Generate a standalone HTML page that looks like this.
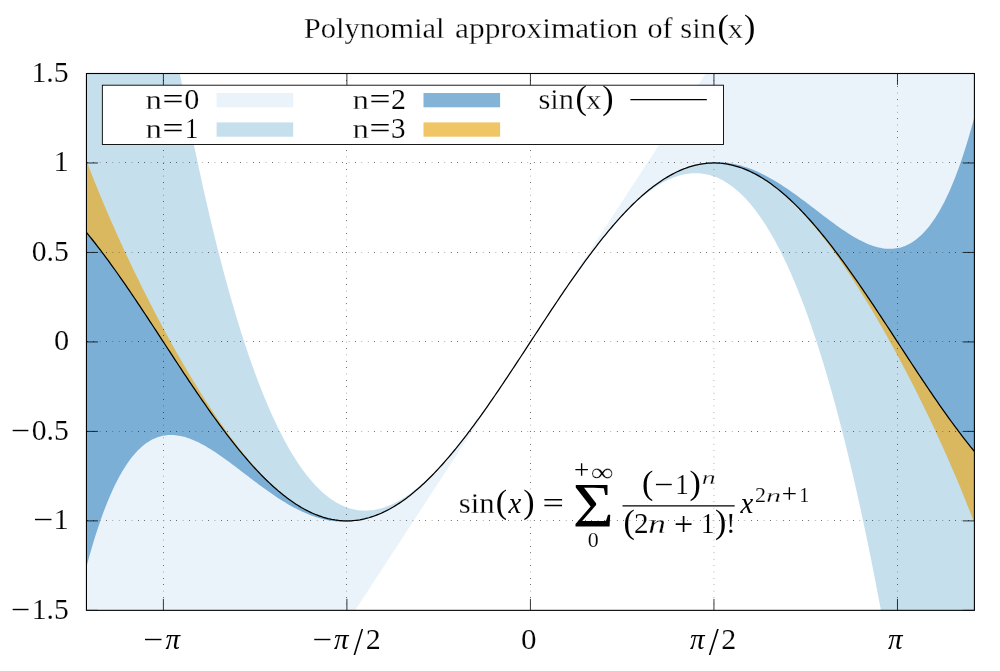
<!DOCTYPE html>
<html><head><meta charset="utf-8"><title>Polynomial approximation of sin(x)</title>
<style>html,body{margin:0;padding:0;background:#fff;}svg{display:block;}</style>
</head><body>
<svg width="1000" height="671" viewBox="0 0 1000 671">
<defs><clipPath id="pc"><rect x="86.45" y="73.50" width="887.95" height="536.85"/></clipPath></defs>
<title>Polynomial approximation of sin(x)</title><desc>Filled curves n=0, n=1, n=2, n=3 and sin(x); sin(x) = sum from 0 to +infinity of (-1)^n / (2n+1)! x^(2n+1)</desc>
<rect width="1000" height="671" fill="#fff"/>
<g clip-path="url(#pc)">
<path d="M86.45,1021.93 L88.23,1019.21 L90.00,1016.49 L91.78,1013.77 L93.55,1011.05 L95.33,1008.33 L97.11,1005.61 L98.88,1002.89 L100.66,1000.17 L102.43,997.45 L104.21,994.73 L105.98,992.01 L107.76,989.29 L109.54,986.57 L111.31,983.85 L113.09,981.13 L114.86,978.41 L116.64,975.69 L118.42,972.97 L120.19,970.25 L121.97,967.53 L123.74,964.81 L125.52,962.09 L127.30,959.37 L129.07,956.65 L130.85,953.93 L132.62,951.21 L134.40,948.49 L136.18,945.77 L137.95,943.05 L139.73,940.33 L141.50,937.61 L143.28,934.89 L145.05,932.17 L146.83,929.45 L148.61,926.73 L150.38,924.01 L152.16,921.29 L153.93,918.57 L155.71,915.85 L157.49,913.13 L159.26,910.41 L161.04,907.69 L162.81,904.97 L164.59,902.25 L166.37,899.53 L168.14,896.81 L169.92,894.09 L171.69,891.37 L173.47,888.65 L175.24,885.93 L177.02,883.21 L178.80,880.49 L180.57,877.77 L182.35,875.05 L184.12,872.33 L185.90,869.61 L187.68,866.89 L189.45,864.17 L191.23,861.45 L193.00,858.73 L194.78,856.01 L196.56,853.29 L198.33,850.57 L200.11,847.85 L201.88,845.13 L203.66,842.41 L205.44,839.69 L207.21,836.97 L208.99,834.25 L210.76,831.53 L212.54,828.81 L214.31,826.09 L216.09,823.37 L217.87,820.65 L219.64,817.93 L221.42,815.21 L223.19,812.49 L224.97,809.77 L226.75,807.05 L228.52,804.33 L230.30,801.61 L232.07,798.89 L233.85,796.17 L235.63,793.45 L237.40,790.73 L239.18,788.01 L240.95,785.29 L242.73,782.57 L244.51,779.85 L246.28,777.13 L248.06,774.41 L249.83,771.69 L251.61,768.97 L253.38,766.25 L255.16,763.53 L256.94,760.81 L258.71,758.09 L260.49,755.37 L262.26,752.65 L264.04,749.93 L265.82,747.21 L267.59,744.49 L269.37,741.77 L271.14,739.05 L272.92,736.33 L274.70,733.61 L276.47,730.89 L278.25,728.17 L280.02,725.45 L281.80,722.73 L283.57,720.01 L285.35,717.29 L287.13,714.57 L288.90,711.85 L290.68,709.13 L292.45,706.41 L294.23,703.69 L296.01,700.97 L297.78,698.25 L299.56,695.53 L301.33,692.81 L303.11,690.09 L304.89,687.37 L306.66,684.65 L308.44,681.93 L310.21,679.21 L311.99,676.49 L313.77,673.77 L315.54,671.05 L317.32,668.33 L319.09,665.61 L320.87,662.89 L322.64,660.17 L324.42,657.45 L326.20,654.73 L327.97,652.01 L329.75,649.29 L331.52,646.57 L333.30,643.85 L335.08,641.13 L336.85,638.41 L338.63,635.69 L340.40,632.97 L342.18,630.25 L343.96,627.53 L345.73,624.81 L347.51,622.09 L349.28,619.37 L351.06,616.65 L352.83,613.93 L354.61,611.21 L356.39,608.49 L358.16,605.77 L359.94,603.05 L361.71,600.33 L363.49,597.61 L365.27,594.89 L367.04,592.17 L368.82,589.45 L370.59,586.73 L372.37,584.01 L374.15,581.29 L375.92,578.57 L377.70,575.85 L379.47,573.13 L381.25,570.41 L383.03,567.69 L384.80,564.97 L386.58,562.25 L388.35,559.53 L390.13,556.81 L391.90,554.09 L393.68,551.37 L395.46,548.65 L397.23,545.93 L399.01,543.21 L400.78,540.49 L402.56,537.77 L404.34,535.05 L406.11,532.33 L407.89,529.61 L409.66,526.89 L411.44,524.17 L413.22,521.45 L414.99,518.73 L416.77,516.01 L418.54,513.29 L420.32,510.57 L422.10,507.85 L423.87,505.13 L425.65,502.41 L427.42,499.69 L429.20,496.97 L430.97,494.25 L432.75,491.53 L434.53,488.81 L436.30,486.09 L438.08,483.37 L439.85,480.65 L441.63,477.93 L443.41,475.21 L445.18,472.49 L446.96,469.77 L448.73,467.05 L450.51,464.33 L452.29,461.61 L454.06,458.89 L455.84,456.17 L457.61,453.45 L459.39,450.73 L461.16,448.01 L462.94,445.29 L464.72,442.57 L466.49,439.85 L468.27,437.13 L470.04,434.41 L471.82,431.69 L473.60,428.97 L475.37,426.25 L477.15,423.53 L478.92,420.81 L480.70,418.09 L482.48,415.37 L484.25,412.65 L486.03,409.93 L487.80,407.21 L489.58,404.49 L491.36,401.77 L493.13,399.05 L494.91,396.33 L496.68,393.61 L498.46,390.89 L500.23,388.17 L502.01,385.45 L503.79,382.73 L505.56,380.01 L507.34,377.29 L509.11,374.57 L510.89,371.85 L512.67,369.13 L514.44,366.41 L516.22,363.69 L517.99,360.97 L519.77,358.25 L521.55,355.53 L523.32,352.81 L525.10,350.09 L526.87,347.37 L528.65,344.65 L530.42,341.93 L532.20,339.20 L533.98,336.48 L535.75,333.76 L537.53,331.04 L539.30,328.32 L541.08,325.60 L542.86,322.88 L544.63,320.16 L546.41,317.44 L548.18,314.72 L549.96,312.00 L551.74,309.28 L553.51,306.56 L555.29,303.84 L557.06,301.12 L558.84,298.40 L560.62,295.68 L562.39,292.96 L564.17,290.24 L565.94,287.52 L567.72,284.80 L569.49,282.08 L571.27,279.36 L573.05,276.64 L574.82,273.92 L576.60,271.20 L578.37,268.48 L580.15,265.76 L581.93,263.04 L583.70,260.32 L585.48,257.60 L587.25,254.88 L589.03,252.16 L590.81,249.44 L592.58,246.72 L594.36,244.00 L596.13,241.28 L597.91,238.56 L599.69,235.84 L601.46,233.12 L603.24,230.40 L605.01,227.68 L606.79,224.96 L608.56,222.24 L610.34,219.52 L612.12,216.80 L613.89,214.08 L615.67,211.36 L617.44,208.64 L619.22,205.92 L621.00,203.20 L622.77,200.48 L624.55,197.76 L626.32,195.04 L628.10,192.32 L629.88,189.60 L631.65,186.88 L633.43,184.16 L635.20,181.44 L636.98,178.72 L638.75,176.00 L640.53,173.28 L642.31,170.56 L644.08,167.84 L645.86,165.12 L647.63,162.40 L649.41,159.68 L651.19,156.96 L652.96,154.24 L654.74,151.52 L656.51,148.80 L658.29,146.08 L660.07,143.36 L661.84,140.64 L663.62,137.92 L665.39,135.20 L667.17,132.48 L668.95,129.76 L670.72,127.04 L672.50,124.32 L674.27,121.60 L676.05,118.88 L677.82,116.16 L679.60,113.44 L681.38,110.72 L683.15,108.00 L684.93,105.28 L686.70,102.56 L688.48,99.84 L690.26,97.12 L692.03,94.40 L693.81,91.68 L695.58,88.96 L697.36,86.24 L699.14,83.52 L700.91,80.80 L702.69,78.08 L704.46,75.36 L706.24,72.64 L708.01,69.92 L709.79,67.20 L711.57,64.48 L713.34,61.76 L715.12,59.04 L716.89,56.32 L718.67,53.60 L720.45,50.88 L722.22,48.16 L724.00,45.44 L725.77,42.72 L727.55,40.00 L729.33,37.28 L731.10,34.56 L732.88,31.84 L734.65,29.12 L736.43,26.40 L738.21,23.68 L739.98,20.96 L741.76,18.24 L743.53,15.52 L745.31,12.80 L747.08,10.08 L748.86,7.36 L750.64,4.64 L752.41,1.92 L754.19,-0.80 L755.96,-3.52 L757.74,-6.24 L759.52,-8.96 L761.29,-11.68 L763.07,-14.40 L764.84,-17.12 L766.62,-19.84 L768.40,-22.56 L770.17,-25.28 L771.95,-28.00 L773.72,-30.72 L775.50,-33.44 L777.28,-36.16 L779.05,-38.88 L780.83,-41.60 L782.60,-44.32 L784.38,-47.04 L786.15,-49.76 L787.93,-52.48 L789.71,-55.20 L791.48,-57.92 L793.26,-60.64 L795.03,-63.36 L796.81,-66.08 L798.59,-68.80 L800.36,-71.52 L802.14,-74.24 L803.91,-76.96 L805.69,-79.68 L807.47,-82.40 L809.24,-85.12 L811.02,-87.84 L812.79,-90.56 L814.57,-93.28 L816.34,-96.00 L818.12,-98.72 L819.90,-101.44 L821.67,-104.16 L823.45,-106.88 L825.22,-109.60 L827.00,-112.32 L828.78,-115.04 L830.55,-117.76 L832.33,-120.48 L834.10,-123.20 L835.88,-125.92 L837.66,-128.64 L839.43,-131.36 L841.21,-134.08 L842.98,-136.80 L844.76,-139.52 L846.54,-142.24 L848.31,-144.96 L850.09,-147.68 L851.86,-150.40 L853.64,-153.12 L855.41,-155.84 L857.19,-158.56 L858.97,-161.28 L860.74,-164.00 L862.52,-166.72 L864.29,-169.44 L866.07,-172.16 L867.85,-174.88 L869.62,-177.60 L871.40,-180.32 L873.17,-183.04 L874.95,-185.76 L876.73,-188.48 L878.50,-191.20 L880.28,-193.92 L882.05,-196.64 L883.83,-199.36 L885.61,-202.08 L887.38,-204.80 L889.16,-207.52 L890.93,-210.24 L892.71,-212.96 L894.48,-215.68 L896.26,-218.40 L898.04,-221.12 L899.81,-223.84 L901.59,-226.56 L903.36,-229.28 L905.14,-232.00 L906.92,-234.72 L908.69,-237.44 L910.47,-240.16 L912.24,-242.88 L914.02,-245.60 L915.80,-248.32 L917.57,-251.04 L919.35,-253.76 L921.12,-256.48 L922.90,-259.20 L924.67,-261.92 L926.45,-264.64 L928.23,-267.36 L930.00,-270.08 L931.78,-272.80 L933.55,-275.52 L935.33,-278.24 L937.11,-280.96 L938.88,-283.68 L940.66,-286.40 L942.43,-289.12 L944.21,-291.84 L945.99,-294.56 L947.76,-297.28 L949.54,-300.00 L951.31,-302.72 L953.09,-305.44 L954.87,-308.16 L956.64,-310.88 L958.42,-313.60 L960.19,-316.32 L961.97,-319.04 L963.74,-321.76 L965.52,-324.48 L967.30,-327.20 L969.07,-329.92 L970.85,-332.64 L972.62,-335.36 L974.40,-338.08 L974.40,451.42 L972.62,449.25 L970.85,447.06 L969.07,444.85 L967.30,442.61 L965.52,440.35 L963.74,438.07 L961.97,435.77 L960.19,433.44 L958.42,431.09 L956.64,428.72 L954.87,426.33 L953.09,423.93 L951.31,421.50 L949.54,419.05 L947.76,416.59 L945.99,414.11 L944.21,411.61 L942.43,409.10 L940.66,406.57 L938.88,404.03 L937.11,401.47 L935.33,398.90 L933.55,396.31 L931.78,393.71 L930.00,391.10 L928.23,388.48 L926.45,385.85 L924.67,383.21 L922.90,380.56 L921.12,377.90 L919.35,375.23 L917.57,372.55 L915.80,369.87 L914.02,367.18 L912.24,364.49 L910.47,361.78 L908.69,359.08 L906.92,356.37 L905.14,353.66 L903.36,350.94 L901.59,348.22 L899.81,345.51 L898.04,342.79 L896.26,340.07 L894.48,337.35 L892.71,334.63 L890.93,331.91 L889.16,329.20 L887.38,326.48 L885.61,323.78 L883.83,321.07 L882.05,318.37 L880.28,315.68 L878.50,312.99 L876.73,310.31 L874.95,307.64 L873.17,304.97 L871.40,302.32 L869.62,299.67 L867.85,297.03 L866.07,294.40 L864.29,291.78 L862.52,289.18 L860.74,286.59 L858.97,284.01 L857.19,281.44 L855.41,278.89 L853.64,276.35 L851.86,273.83 L850.09,271.32 L848.31,268.83 L846.54,266.35 L844.76,263.90 L842.98,261.46 L841.21,259.04 L839.43,256.64 L837.66,254.25 L835.88,251.89 L834.10,249.55 L832.33,247.23 L830.55,244.94 L828.78,242.66 L827.00,240.41 L825.22,238.18 L823.45,235.98 L821.67,233.80 L819.90,231.64 L818.12,229.51 L816.34,227.41 L814.57,225.33 L812.79,223.28 L811.02,221.26 L809.24,219.27 L807.47,217.30 L805.69,215.36 L803.91,213.46 L802.14,211.58 L800.36,209.73 L798.59,207.91 L796.81,206.12 L795.03,204.37 L793.26,202.64 L791.48,200.95 L789.71,199.29 L787.93,197.67 L786.15,196.07 L784.38,194.52 L782.60,192.99 L780.83,191.50 L779.05,190.04 L777.28,188.62 L775.50,187.24 L773.72,185.89 L771.95,184.57 L770.17,183.30 L768.40,182.06 L766.62,180.85 L764.84,179.69 L763.07,178.56 L761.29,177.47 L759.52,176.41 L757.74,175.40 L755.96,174.42 L754.19,173.48 L752.41,172.58 L750.64,171.72 L748.86,170.90 L747.08,170.12 L745.31,169.38 L743.53,168.68 L741.76,168.02 L739.98,167.40 L738.21,166.82 L736.43,166.28 L734.65,165.78 L732.88,165.32 L731.10,164.90 L729.33,164.52 L727.55,164.19 L725.77,163.89 L724.00,163.64 L722.22,163.42 L720.45,163.25 L718.67,163.12 L716.89,163.03 L715.12,162.98 L713.34,162.98 L711.57,163.01 L709.79,163.09 L708.01,163.21 L706.24,163.36 L704.46,163.56 L702.69,163.81 L700.91,164.09 L699.14,164.41 L697.36,164.78 L695.58,165.18 L693.81,165.63 L692.03,166.11 L690.26,166.64 L688.48,167.21 L686.70,167.82 L684.93,168.47 L683.15,169.16 L681.38,169.88 L679.60,170.65 L677.82,171.46 L676.05,172.31 L674.27,173.19 L672.50,174.12 L670.72,175.08 L668.95,176.09 L667.17,177.13 L665.39,178.21 L663.62,179.33 L661.84,180.48 L660.07,181.67 L658.29,182.90 L656.51,184.17 L654.74,185.47 L652.96,186.81 L651.19,188.18 L649.41,189.59 L647.63,191.04 L645.86,192.51 L644.08,194.03 L642.31,195.58 L640.53,197.16 L638.75,198.78 L636.98,200.42 L635.20,202.11 L633.43,203.82 L631.65,205.56 L629.88,207.34 L628.10,209.15 L626.32,210.99 L624.55,212.86 L622.77,214.76 L621.00,216.69 L619.22,218.64 L617.44,220.63 L615.67,222.64 L613.89,224.68 L612.12,226.75 L610.34,228.85 L608.56,230.97 L606.79,233.11 L605.01,235.29 L603.24,237.48 L601.46,239.70 L599.69,241.95 L597.91,244.22 L596.13,246.51 L594.36,248.82 L592.58,251.15 L590.81,253.51 L589.03,255.88 L587.25,258.28 L585.48,260.69 L583.70,263.12 L581.93,265.57 L580.15,268.04 L578.37,270.53 L576.60,273.03 L574.82,275.55 L573.05,278.08 L571.27,280.63 L569.49,283.19 L567.72,285.77 L565.94,288.36 L564.17,290.96 L562.39,293.57 L560.62,296.20 L558.84,298.83 L557.06,301.48 L555.29,304.13 L553.51,306.79 L551.74,309.47 L549.96,312.14 L548.18,314.83 L546.41,317.52 L544.63,320.22 L542.86,322.92 L541.08,325.63 L539.30,328.34 L537.53,331.05 L535.75,333.77 L533.98,336.49 L532.20,339.21 L530.42,341.93 L528.65,344.64 L526.87,347.36 L525.10,350.08 L523.32,352.80 L521.55,355.51 L519.77,358.22 L517.99,360.93 L516.22,363.63 L514.44,366.33 L512.67,369.02 L510.89,371.71 L509.11,374.38 L507.34,377.06 L505.56,379.72 L503.79,382.37 L502.01,385.02 L500.23,387.65 L498.46,390.28 L496.68,392.89 L494.91,395.49 L493.13,398.08 L491.36,400.66 L489.58,403.22 L487.80,405.77 L486.03,408.30 L484.25,410.82 L482.48,413.32 L480.70,415.81 L478.92,418.28 L477.15,420.73 L475.37,423.16 L473.60,425.57 L471.82,427.97 L470.04,430.34 L468.27,432.70 L466.49,435.03 L464.72,437.34 L462.94,439.63 L461.16,441.90 L459.39,444.15 L457.61,446.37 L455.84,448.56 L454.06,450.74 L452.29,452.88 L450.51,455.00 L448.73,457.10 L446.96,459.17 L445.18,461.21 L443.41,463.22 L441.63,465.21 L439.85,467.16 L438.08,469.09 L436.30,470.99 L434.53,472.86 L432.75,474.70 L430.97,476.51 L429.20,478.29 L427.42,480.03 L425.65,481.74 L423.87,483.43 L422.10,485.07 L420.32,486.69 L418.54,488.27 L416.77,489.82 L414.99,491.34 L413.22,492.81 L411.44,494.26 L409.66,495.67 L407.89,497.04 L406.11,498.38 L404.34,499.68 L402.56,500.95 L400.78,502.18 L399.01,503.37 L397.23,504.52 L395.46,505.64 L393.68,506.72 L391.90,507.76 L390.13,508.77 L388.35,509.73 L386.58,510.66 L384.80,511.54 L383.03,512.39 L381.25,513.20 L379.47,513.97 L377.70,514.69 L375.92,515.38 L374.15,516.03 L372.37,516.64 L370.59,517.21 L368.82,517.74 L367.04,518.22 L365.27,518.67 L363.49,519.07 L361.71,519.44 L359.94,519.76 L358.16,520.04 L356.39,520.29 L354.61,520.49 L352.83,520.64 L351.06,520.76 L349.28,520.84 L347.51,520.87 L345.73,520.87 L343.96,520.82 L342.18,520.73 L340.40,520.60 L338.63,520.43 L336.85,520.21 L335.08,519.96 L333.30,519.66 L331.52,519.33 L329.75,518.95 L327.97,518.53 L326.20,518.07 L324.42,517.57 L322.64,517.03 L320.87,516.45 L319.09,515.83 L317.32,515.17 L315.54,514.47 L313.77,513.73 L311.99,512.95 L310.21,512.13 L308.44,511.27 L306.66,510.37 L304.89,509.43 L303.11,508.45 L301.33,507.44 L299.56,506.38 L297.78,505.29 L296.01,504.16 L294.23,503.00 L292.45,501.79 L290.68,500.55 L288.90,499.28 L287.13,497.96 L285.35,496.61 L283.57,495.23 L281.80,493.81 L280.02,492.35 L278.25,490.86 L276.47,489.33 L274.70,487.78 L272.92,486.18 L271.14,484.56 L269.37,482.90 L267.59,481.21 L265.82,479.48 L264.04,477.73 L262.26,475.94 L260.49,474.12 L258.71,472.27 L256.94,470.39 L255.16,468.49 L253.38,466.55 L251.61,464.58 L249.83,462.59 L248.06,460.57 L246.28,458.52 L244.51,456.44 L242.73,454.34 L240.95,452.21 L239.18,450.05 L237.40,447.87 L235.63,445.67 L233.85,443.44 L232.07,441.19 L230.30,438.91 L228.52,436.62 L226.75,434.30 L224.97,431.96 L223.19,429.60 L221.42,427.21 L219.64,424.81 L217.87,422.39 L216.09,419.95 L214.31,417.50 L212.54,415.02 L210.76,412.53 L208.99,410.02 L207.21,407.50 L205.44,404.96 L203.66,402.41 L201.88,399.84 L200.11,397.26 L198.33,394.67 L196.56,392.07 L194.78,389.45 L193.00,386.82 L191.23,384.18 L189.45,381.53 L187.68,378.88 L185.90,376.21 L184.12,373.54 L182.35,370.86 L180.57,368.17 L178.80,365.48 L177.02,362.78 L175.24,360.07 L173.47,357.37 L171.69,354.65 L169.92,351.94 L168.14,349.22 L166.37,346.50 L164.59,343.78 L162.81,341.06 L161.04,338.34 L159.26,335.63 L157.49,332.91 L155.71,330.19 L153.93,327.48 L152.16,324.77 L150.38,322.07 L148.61,319.36 L146.83,316.67 L145.05,313.98 L143.28,311.30 L141.50,308.62 L139.73,305.95 L137.95,303.29 L136.18,300.64 L134.40,298.00 L132.62,295.37 L130.85,292.75 L129.07,290.14 L127.30,287.54 L125.52,284.95 L123.74,282.38 L121.97,279.82 L120.19,277.28 L118.42,274.75 L116.64,272.24 L114.86,269.74 L113.09,267.26 L111.31,264.80 L109.54,262.35 L107.76,259.92 L105.98,257.52 L104.21,255.13 L102.43,252.76 L100.66,250.41 L98.88,248.08 L97.11,245.78 L95.33,243.50 L93.55,241.24 L91.78,239.00 L90.00,236.79 L88.23,234.60 L86.45,232.43Z" fill="#DEEBF7" fill-opacity="0.60"/>
<path d="M86.45,-373.88 L88.23,-373.88 L90.00,-373.88 L91.78,-373.88 L93.55,-373.88 L95.33,-373.88 L97.11,-373.88 L98.88,-373.88 L100.66,-373.88 L102.43,-373.88 L104.21,-373.88 L105.98,-373.88 L107.76,-373.88 L109.54,-373.88 L111.31,-373.88 L113.09,-373.88 L114.86,-363.61 L116.64,-349.19 L118.42,-334.93 L120.19,-320.81 L121.97,-306.83 L123.74,-293.00 L125.52,-279.32 L127.30,-265.77 L129.07,-252.37 L130.85,-239.12 L132.62,-226.00 L134.40,-213.02 L136.18,-200.19 L137.95,-187.49 L139.73,-174.93 L141.50,-162.52 L143.28,-150.23 L145.05,-138.09 L146.83,-126.08 L148.61,-114.21 L150.38,-102.47 L152.16,-90.87 L153.93,-79.40 L155.71,-68.06 L157.49,-56.86 L159.26,-45.79 L161.04,-34.85 L162.81,-24.04 L164.59,-13.36 L166.37,-2.81 L168.14,7.61 L169.92,17.90 L171.69,28.07 L173.47,38.10 L175.24,48.02 L177.02,57.80 L178.80,67.46 L180.57,77.00 L182.35,86.41 L184.12,95.70 L185.90,104.87 L187.68,113.91 L189.45,122.84 L191.23,131.64 L193.00,140.32 L194.78,148.89 L196.56,157.33 L198.33,165.66 L200.11,173.87 L201.88,181.96 L203.66,189.94 L205.44,197.80 L207.21,205.54 L208.99,213.17 L210.76,220.69 L212.54,228.09 L214.31,235.39 L216.09,242.57 L217.87,249.63 L219.64,256.59 L221.42,263.44 L223.19,270.18 L224.97,276.81 L226.75,283.33 L228.52,289.75 L230.30,296.05 L232.07,302.25 L233.85,308.35 L235.63,314.34 L237.40,320.23 L239.18,326.01 L240.95,331.69 L242.73,337.27 L244.51,342.74 L246.28,348.12 L248.06,353.39 L249.83,358.57 L251.61,363.64 L253.38,368.62 L255.16,373.49 L256.94,378.27 L258.71,382.96 L260.49,387.55 L262.26,392.04 L264.04,396.43 L265.82,400.74 L267.59,404.95 L269.37,409.06 L271.14,413.09 L272.92,417.02 L274.70,420.86 L276.47,424.61 L278.25,428.27 L280.02,431.84 L281.80,435.32 L283.57,438.72 L285.35,442.03 L287.13,445.25 L288.90,448.38 L290.68,451.43 L292.45,454.40 L294.23,457.28 L296.01,460.07 L297.78,462.79 L299.56,465.42 L301.33,467.97 L303.11,470.44 L304.89,472.82 L306.66,475.13 L308.44,477.36 L310.21,479.51 L311.99,481.58 L313.77,483.58 L315.54,485.50 L317.32,487.34 L319.09,489.11 L320.87,490.80 L322.64,492.42 L324.42,493.96 L326.20,495.43 L327.97,496.83 L329.75,498.16 L331.52,499.42 L333.30,500.60 L335.08,501.72 L336.85,502.77 L338.63,503.75 L340.40,504.66 L342.18,505.50 L343.96,506.28 L345.73,506.99 L347.51,507.64 L349.28,508.22 L351.06,508.74 L352.83,509.19 L354.61,509.58 L356.39,509.91 L358.16,510.18 L359.94,510.38 L361.71,510.53 L363.49,510.61 L365.27,510.64 L367.04,510.61 L368.82,510.52 L370.59,510.37 L372.37,510.17 L374.15,509.91 L375.92,509.60 L377.70,509.23 L379.47,508.81 L381.25,508.33 L383.03,507.80 L384.80,507.22 L386.58,506.59 L388.35,505.90 L390.13,505.17 L391.90,504.38 L393.68,503.55 L395.46,502.67 L397.23,501.74 L399.01,500.76 L400.78,499.74 L402.56,498.67 L404.34,497.56 L406.11,496.40 L407.89,495.20 L409.66,493.95 L411.44,492.67 L413.22,491.34 L414.99,489.96 L416.77,488.55 L418.54,487.10 L420.32,485.61 L422.10,484.07 L423.87,482.50 L425.65,480.90 L427.42,479.25 L429.20,477.57 L430.97,475.85 L432.75,474.10 L434.53,472.31 L436.30,470.49 L438.08,468.64 L439.85,466.75 L441.63,464.83 L443.41,462.88 L445.18,460.90 L446.96,458.89 L448.73,456.85 L450.51,454.78 L452.29,452.68 L454.06,450.56 L455.84,448.41 L457.61,446.23 L459.39,444.02 L461.16,441.79 L462.94,439.54 L464.72,437.26 L466.49,434.96 L468.27,432.64 L470.04,430.29 L471.82,427.92 L473.60,425.53 L475.37,423.13 L477.15,420.70 L478.92,418.25 L480.70,415.79 L482.48,413.30 L484.25,410.81 L486.03,408.29 L487.80,405.76 L489.58,403.21 L491.36,400.65 L493.13,398.08 L494.91,395.49 L496.68,392.89 L498.46,390.27 L500.23,387.65 L502.01,385.02 L503.79,382.37 L505.56,379.72 L507.34,377.06 L509.11,374.38 L510.89,371.71 L512.67,369.02 L514.44,366.33 L516.22,363.63 L517.99,360.93 L519.77,358.22 L521.55,355.51 L523.32,352.80 L525.10,350.08 L526.87,347.36 L528.65,344.64 L530.42,341.93 L532.20,339.21 L533.98,336.49 L535.75,333.77 L537.53,331.05 L539.30,328.34 L541.08,325.63 L542.86,322.92 L544.63,320.22 L546.41,317.52 L548.18,314.83 L549.96,312.14 L551.74,309.47 L553.51,306.79 L555.29,304.13 L557.06,301.48 L558.84,298.83 L560.62,296.20 L562.39,293.58 L564.17,290.96 L565.94,288.36 L567.72,285.77 L569.49,283.20 L571.27,280.64 L573.05,278.09 L574.82,275.56 L576.60,273.04 L578.37,270.55 L580.15,268.06 L581.93,265.60 L583.70,263.15 L585.48,260.72 L587.25,258.32 L589.03,255.93 L590.81,253.56 L592.58,251.21 L594.36,248.89 L596.13,246.59 L597.91,244.31 L599.69,242.06 L601.46,239.83 L603.24,237.62 L605.01,235.44 L606.79,233.29 L608.56,231.17 L610.34,229.07 L612.12,227.00 L613.89,224.96 L615.67,222.95 L617.44,220.97 L619.22,219.02 L621.00,217.10 L622.77,215.21 L624.55,213.36 L626.32,211.54 L628.10,209.75 L629.88,208.00 L631.65,206.28 L633.43,204.60 L635.20,202.95 L636.98,201.35 L638.75,199.78 L640.53,198.24 L642.31,196.75 L644.08,195.30 L645.86,193.89 L647.63,192.51 L649.41,191.18 L651.19,189.90 L652.96,188.65 L654.74,187.45 L656.51,186.29 L658.29,185.18 L660.07,184.11 L661.84,183.09 L663.62,182.11 L665.39,181.18 L667.17,180.30 L668.95,179.47 L670.72,178.68 L672.50,177.95 L674.27,177.26 L676.05,176.63 L677.82,176.05 L679.60,175.52 L681.38,175.04 L683.15,174.62 L684.93,174.25 L686.70,173.94 L688.48,173.68 L690.26,173.48 L692.03,173.33 L693.81,173.24 L695.58,173.21 L697.36,173.24 L699.14,173.32 L700.91,173.47 L702.69,173.67 L704.46,173.94 L706.24,174.27 L708.01,174.66 L709.79,175.11 L711.57,175.63 L713.34,176.21 L715.12,176.86 L716.89,177.57 L718.67,178.35 L720.45,179.19 L722.22,180.10 L724.00,181.08 L725.77,182.13 L727.55,183.25 L729.33,184.43 L731.10,185.69 L732.88,187.02 L734.65,188.42 L736.43,189.89 L738.21,191.43 L739.98,193.05 L741.76,194.74 L743.53,196.51 L745.31,198.35 L747.08,200.27 L748.86,202.27 L750.64,204.34 L752.41,206.49 L754.19,208.72 L755.96,211.03 L757.74,213.41 L759.52,215.88 L761.29,218.43 L763.07,221.06 L764.84,223.78 L766.62,226.57 L768.40,229.45 L770.17,232.42 L771.95,235.47 L773.72,238.60 L775.50,241.82 L777.28,245.13 L779.05,248.53 L780.83,252.01 L782.60,255.58 L784.38,259.24 L786.15,262.99 L787.93,266.83 L789.71,270.76 L791.48,274.79 L793.26,278.90 L795.03,283.11 L796.81,287.42 L798.59,291.81 L800.36,296.30 L802.14,300.89 L803.91,305.58 L805.69,310.36 L807.47,315.23 L809.24,320.21 L811.02,325.28 L812.79,330.46 L814.57,335.73 L816.34,341.11 L818.12,346.58 L819.90,352.16 L821.67,357.84 L823.45,363.62 L825.22,369.51 L827.00,375.50 L828.78,381.60 L830.55,387.80 L832.33,394.10 L834.10,400.52 L835.88,407.04 L837.66,413.67 L839.43,420.41 L841.21,427.26 L842.98,434.22 L844.76,441.28 L846.54,448.46 L848.31,455.76 L850.09,463.16 L851.86,470.68 L853.64,478.31 L855.41,486.05 L857.19,493.91 L858.97,501.89 L860.74,509.98 L862.52,518.19 L864.29,526.52 L866.07,534.96 L867.85,543.53 L869.62,552.21 L871.40,561.01 L873.17,569.94 L874.95,578.98 L876.73,588.15 L878.50,597.44 L880.28,606.85 L882.05,616.39 L883.83,626.05 L885.61,635.83 L887.38,645.75 L889.16,655.78 L890.93,665.95 L892.71,676.24 L894.48,686.66 L896.26,697.21 L898.04,707.89 L899.81,718.70 L901.59,729.64 L903.36,740.71 L905.14,751.91 L906.92,763.25 L908.69,774.72 L910.47,786.32 L912.24,798.06 L914.02,809.93 L915.80,821.94 L917.57,834.08 L919.35,846.37 L921.12,858.78 L922.90,871.34 L924.67,884.04 L926.45,896.87 L928.23,909.85 L930.00,922.97 L931.78,936.22 L933.55,949.62 L935.33,963.17 L937.11,976.85 L938.88,990.68 L940.66,1004.66 L942.43,1018.78 L944.21,1033.04 L945.99,1047.46 L947.76,1057.73 L949.54,1057.73 L951.31,1057.73 L953.09,1057.73 L954.87,1057.73 L956.64,1057.73 L958.42,1057.73 L960.19,1057.73 L961.97,1057.73 L963.74,1057.73 L965.52,1057.73 L967.30,1057.73 L969.07,1057.73 L970.85,1057.73 L972.62,1057.73 L974.40,1057.73 L974.40,451.42 L972.62,449.25 L970.85,447.06 L969.07,444.85 L967.30,442.61 L965.52,440.35 L963.74,438.07 L961.97,435.77 L960.19,433.44 L958.42,431.09 L956.64,428.72 L954.87,426.33 L953.09,423.93 L951.31,421.50 L949.54,419.05 L947.76,416.59 L945.99,414.11 L944.21,411.61 L942.43,409.10 L940.66,406.57 L938.88,404.03 L937.11,401.47 L935.33,398.90 L933.55,396.31 L931.78,393.71 L930.00,391.10 L928.23,388.48 L926.45,385.85 L924.67,383.21 L922.90,380.56 L921.12,377.90 L919.35,375.23 L917.57,372.55 L915.80,369.87 L914.02,367.18 L912.24,364.49 L910.47,361.78 L908.69,359.08 L906.92,356.37 L905.14,353.66 L903.36,350.94 L901.59,348.22 L899.81,345.51 L898.04,342.79 L896.26,340.07 L894.48,337.35 L892.71,334.63 L890.93,331.91 L889.16,329.20 L887.38,326.48 L885.61,323.78 L883.83,321.07 L882.05,318.37 L880.28,315.68 L878.50,312.99 L876.73,310.31 L874.95,307.64 L873.17,304.97 L871.40,302.32 L869.62,299.67 L867.85,297.03 L866.07,294.40 L864.29,291.78 L862.52,289.18 L860.74,286.59 L858.97,284.01 L857.19,281.44 L855.41,278.89 L853.64,276.35 L851.86,273.83 L850.09,271.32 L848.31,268.83 L846.54,266.35 L844.76,263.90 L842.98,261.46 L841.21,259.04 L839.43,256.64 L837.66,254.25 L835.88,251.89 L834.10,249.55 L832.33,247.23 L830.55,244.94 L828.78,242.66 L827.00,240.41 L825.22,238.18 L823.45,235.98 L821.67,233.80 L819.90,231.64 L818.12,229.51 L816.34,227.41 L814.57,225.33 L812.79,223.28 L811.02,221.26 L809.24,219.27 L807.47,217.30 L805.69,215.36 L803.91,213.46 L802.14,211.58 L800.36,209.73 L798.59,207.91 L796.81,206.12 L795.03,204.37 L793.26,202.64 L791.48,200.95 L789.71,199.29 L787.93,197.67 L786.15,196.07 L784.38,194.52 L782.60,192.99 L780.83,191.50 L779.05,190.04 L777.28,188.62 L775.50,187.24 L773.72,185.89 L771.95,184.57 L770.17,183.30 L768.40,182.06 L766.62,180.85 L764.84,179.69 L763.07,178.56 L761.29,177.47 L759.52,176.41 L757.74,175.40 L755.96,174.42 L754.19,173.48 L752.41,172.58 L750.64,171.72 L748.86,170.90 L747.08,170.12 L745.31,169.38 L743.53,168.68 L741.76,168.02 L739.98,167.40 L738.21,166.82 L736.43,166.28 L734.65,165.78 L732.88,165.32 L731.10,164.90 L729.33,164.52 L727.55,164.19 L725.77,163.89 L724.00,163.64 L722.22,163.42 L720.45,163.25 L718.67,163.12 L716.89,163.03 L715.12,162.98 L713.34,162.98 L711.57,163.01 L709.79,163.09 L708.01,163.21 L706.24,163.36 L704.46,163.56 L702.69,163.81 L700.91,164.09 L699.14,164.41 L697.36,164.78 L695.58,165.18 L693.81,165.63 L692.03,166.11 L690.26,166.64 L688.48,167.21 L686.70,167.82 L684.93,168.47 L683.15,169.16 L681.38,169.88 L679.60,170.65 L677.82,171.46 L676.05,172.31 L674.27,173.19 L672.50,174.12 L670.72,175.08 L668.95,176.09 L667.17,177.13 L665.39,178.21 L663.62,179.33 L661.84,180.48 L660.07,181.67 L658.29,182.90 L656.51,184.17 L654.74,185.47 L652.96,186.81 L651.19,188.18 L649.41,189.59 L647.63,191.04 L645.86,192.51 L644.08,194.03 L642.31,195.58 L640.53,197.16 L638.75,198.78 L636.98,200.42 L635.20,202.11 L633.43,203.82 L631.65,205.56 L629.88,207.34 L628.10,209.15 L626.32,210.99 L624.55,212.86 L622.77,214.76 L621.00,216.69 L619.22,218.64 L617.44,220.63 L615.67,222.64 L613.89,224.68 L612.12,226.75 L610.34,228.85 L608.56,230.97 L606.79,233.11 L605.01,235.29 L603.24,237.48 L601.46,239.70 L599.69,241.95 L597.91,244.22 L596.13,246.51 L594.36,248.82 L592.58,251.15 L590.81,253.51 L589.03,255.88 L587.25,258.28 L585.48,260.69 L583.70,263.12 L581.93,265.57 L580.15,268.04 L578.37,270.53 L576.60,273.03 L574.82,275.55 L573.05,278.08 L571.27,280.63 L569.49,283.19 L567.72,285.77 L565.94,288.36 L564.17,290.96 L562.39,293.57 L560.62,296.20 L558.84,298.83 L557.06,301.48 L555.29,304.13 L553.51,306.79 L551.74,309.47 L549.96,312.14 L548.18,314.83 L546.41,317.52 L544.63,320.22 L542.86,322.92 L541.08,325.63 L539.30,328.34 L537.53,331.05 L535.75,333.77 L533.98,336.49 L532.20,339.21 L530.42,341.93 L528.65,344.64 L526.87,347.36 L525.10,350.08 L523.32,352.80 L521.55,355.51 L519.77,358.22 L517.99,360.93 L516.22,363.63 L514.44,366.33 L512.67,369.02 L510.89,371.71 L509.11,374.38 L507.34,377.06 L505.56,379.72 L503.79,382.37 L502.01,385.02 L500.23,387.65 L498.46,390.28 L496.68,392.89 L494.91,395.49 L493.13,398.08 L491.36,400.66 L489.58,403.22 L487.80,405.77 L486.03,408.30 L484.25,410.82 L482.48,413.32 L480.70,415.81 L478.92,418.28 L477.15,420.73 L475.37,423.16 L473.60,425.57 L471.82,427.97 L470.04,430.34 L468.27,432.70 L466.49,435.03 L464.72,437.34 L462.94,439.63 L461.16,441.90 L459.39,444.15 L457.61,446.37 L455.84,448.56 L454.06,450.74 L452.29,452.88 L450.51,455.00 L448.73,457.10 L446.96,459.17 L445.18,461.21 L443.41,463.22 L441.63,465.21 L439.85,467.16 L438.08,469.09 L436.30,470.99 L434.53,472.86 L432.75,474.70 L430.97,476.51 L429.20,478.29 L427.42,480.03 L425.65,481.74 L423.87,483.43 L422.10,485.07 L420.32,486.69 L418.54,488.27 L416.77,489.82 L414.99,491.34 L413.22,492.81 L411.44,494.26 L409.66,495.67 L407.89,497.04 L406.11,498.38 L404.34,499.68 L402.56,500.95 L400.78,502.18 L399.01,503.37 L397.23,504.52 L395.46,505.64 L393.68,506.72 L391.90,507.76 L390.13,508.77 L388.35,509.73 L386.58,510.66 L384.80,511.54 L383.03,512.39 L381.25,513.20 L379.47,513.97 L377.70,514.69 L375.92,515.38 L374.15,516.03 L372.37,516.64 L370.59,517.21 L368.82,517.74 L367.04,518.22 L365.27,518.67 L363.49,519.07 L361.71,519.44 L359.94,519.76 L358.16,520.04 L356.39,520.29 L354.61,520.49 L352.83,520.64 L351.06,520.76 L349.28,520.84 L347.51,520.87 L345.73,520.87 L343.96,520.82 L342.18,520.73 L340.40,520.60 L338.63,520.43 L336.85,520.21 L335.08,519.96 L333.30,519.66 L331.52,519.33 L329.75,518.95 L327.97,518.53 L326.20,518.07 L324.42,517.57 L322.64,517.03 L320.87,516.45 L319.09,515.83 L317.32,515.17 L315.54,514.47 L313.77,513.73 L311.99,512.95 L310.21,512.13 L308.44,511.27 L306.66,510.37 L304.89,509.43 L303.11,508.45 L301.33,507.44 L299.56,506.38 L297.78,505.29 L296.01,504.16 L294.23,503.00 L292.45,501.79 L290.68,500.55 L288.90,499.28 L287.13,497.96 L285.35,496.61 L283.57,495.23 L281.80,493.81 L280.02,492.35 L278.25,490.86 L276.47,489.33 L274.70,487.78 L272.92,486.18 L271.14,484.56 L269.37,482.90 L267.59,481.21 L265.82,479.48 L264.04,477.73 L262.26,475.94 L260.49,474.12 L258.71,472.27 L256.94,470.39 L255.16,468.49 L253.38,466.55 L251.61,464.58 L249.83,462.59 L248.06,460.57 L246.28,458.52 L244.51,456.44 L242.73,454.34 L240.95,452.21 L239.18,450.05 L237.40,447.87 L235.63,445.67 L233.85,443.44 L232.07,441.19 L230.30,438.91 L228.52,436.62 L226.75,434.30 L224.97,431.96 L223.19,429.60 L221.42,427.21 L219.64,424.81 L217.87,422.39 L216.09,419.95 L214.31,417.50 L212.54,415.02 L210.76,412.53 L208.99,410.02 L207.21,407.50 L205.44,404.96 L203.66,402.41 L201.88,399.84 L200.11,397.26 L198.33,394.67 L196.56,392.07 L194.78,389.45 L193.00,386.82 L191.23,384.18 L189.45,381.53 L187.68,378.88 L185.90,376.21 L184.12,373.54 L182.35,370.86 L180.57,368.17 L178.80,365.48 L177.02,362.78 L175.24,360.07 L173.47,357.37 L171.69,354.65 L169.92,351.94 L168.14,349.22 L166.37,346.50 L164.59,343.78 L162.81,341.06 L161.04,338.34 L159.26,335.63 L157.49,332.91 L155.71,330.19 L153.93,327.48 L152.16,324.77 L150.38,322.07 L148.61,319.36 L146.83,316.67 L145.05,313.98 L143.28,311.30 L141.50,308.62 L139.73,305.95 L137.95,303.29 L136.18,300.64 L134.40,298.00 L132.62,295.37 L130.85,292.75 L129.07,290.14 L127.30,287.54 L125.52,284.95 L123.74,282.38 L121.97,279.82 L120.19,277.28 L118.42,274.75 L116.64,272.24 L114.86,269.74 L113.09,267.26 L111.31,264.80 L109.54,262.35 L107.76,259.92 L105.98,257.52 L104.21,255.13 L102.43,252.76 L100.66,250.41 L98.88,248.08 L97.11,245.78 L95.33,243.50 L93.55,241.24 L91.78,239.00 L90.00,236.79 L88.23,234.60 L86.45,232.43Z" fill="#9ECAE1" fill-opacity="0.60"/>
<path d="M86.45,566.97 L88.23,560.37 L90.00,553.98 L91.78,547.81 L93.55,541.85 L95.33,536.09 L97.11,530.53 L98.88,525.17 L100.66,520.01 L102.43,515.04 L104.21,510.25 L105.98,505.65 L107.76,501.23 L109.54,496.99 L111.31,492.91 L113.09,489.01 L114.86,485.28 L116.64,481.71 L118.42,478.29 L120.19,475.04 L121.97,471.93 L123.74,468.98 L125.52,466.17 L127.30,463.51 L129.07,460.99 L130.85,458.60 L132.62,456.35 L134.40,454.23 L136.18,452.24 L137.95,450.37 L139.73,448.63 L141.50,447.01 L143.28,445.50 L145.05,444.10 L146.83,442.82 L148.61,441.65 L150.38,440.58 L152.16,439.61 L153.93,438.74 L155.71,437.97 L157.49,437.30 L159.26,436.71 L161.04,436.22 L162.81,435.81 L164.59,435.49 L166.37,435.25 L168.14,435.09 L169.92,435.01 L171.69,435.00 L173.47,435.07 L175.24,435.20 L177.02,435.40 L178.80,435.67 L180.57,436.00 L182.35,436.40 L184.12,436.85 L185.90,437.36 L187.68,437.92 L189.45,438.54 L191.23,439.20 L193.00,439.92 L194.78,440.68 L196.56,441.49 L198.33,442.34 L200.11,443.23 L201.88,444.16 L203.66,445.12 L205.44,446.12 L207.21,447.16 L208.99,448.22 L210.76,449.32 L212.54,450.44 L214.31,451.59 L216.09,452.77 L217.87,453.96 L219.64,455.18 L221.42,456.42 L223.19,457.68 L224.97,458.95 L226.75,460.24 L228.52,461.54 L230.30,462.86 L232.07,464.18 L233.85,465.51 L235.63,466.86 L237.40,468.20 L239.18,469.56 L240.95,470.91 L242.73,472.27 L244.51,473.63 L246.28,474.99 L248.06,476.35 L249.83,477.70 L251.61,479.06 L253.38,480.40 L255.16,481.74 L256.94,483.08 L258.71,484.40 L260.49,485.72 L262.26,487.02 L264.04,488.32 L265.82,489.60 L267.59,490.86 L269.37,492.12 L271.14,493.35 L272.92,494.57 L274.70,495.78 L276.47,496.96 L278.25,498.13 L280.02,499.27 L281.80,500.40 L283.57,501.50 L285.35,502.58 L287.13,503.64 L288.90,504.68 L290.68,505.69 L292.45,506.67 L294.23,507.63 L296.01,508.56 L297.78,509.47 L299.56,510.34 L301.33,511.19 L303.11,512.01 L304.89,512.80 L306.66,513.56 L308.44,514.29 L310.21,514.98 L311.99,515.65 L313.77,516.28 L315.54,516.88 L317.32,517.45 L319.09,517.98 L320.87,518.48 L322.64,518.94 L324.42,519.38 L326.20,519.77 L327.97,520.13 L329.75,520.45 L331.52,520.74 L333.30,520.99 L335.08,521.21 L336.85,521.39 L338.63,521.53 L340.40,521.63 L342.18,521.69 L343.96,521.72 L345.73,521.71 L347.51,521.66 L349.28,521.58 L351.06,521.45 L352.83,521.29 L354.61,521.09 L356.39,520.85 L358.16,520.57 L359.94,520.25 L361.71,519.89 L363.49,519.49 L365.27,519.06 L367.04,518.58 L368.82,518.07 L370.59,517.52 L372.37,516.93 L374.15,516.30 L375.92,515.63 L377.70,514.92 L379.47,514.17 L381.25,513.39 L383.03,512.57 L384.80,511.70 L386.58,510.80 L388.35,509.87 L390.13,508.89 L391.90,507.88 L393.68,506.83 L395.46,505.74 L397.23,504.61 L399.01,503.45 L400.78,502.25 L402.56,501.02 L404.34,499.74 L406.11,498.44 L407.89,497.09 L409.66,495.71 L411.44,494.30 L413.22,492.85 L414.99,491.37 L416.77,489.85 L418.54,488.30 L420.32,486.71 L422.10,485.10 L423.87,483.44 L425.65,481.76 L427.42,480.05 L429.20,478.30 L430.97,476.52 L432.75,474.71 L434.53,472.87 L436.30,471.00 L438.08,469.10 L439.85,467.17 L441.63,465.21 L443.41,463.23 L445.18,461.21 L446.96,459.17 L448.73,457.10 L450.51,455.01 L452.29,452.88 L454.06,450.74 L455.84,448.56 L457.61,446.37 L459.39,444.15 L461.16,441.90 L462.94,439.64 L464.72,437.35 L466.49,435.03 L468.27,432.70 L470.04,430.34 L471.82,427.97 L473.60,425.57 L475.37,423.16 L477.15,420.73 L478.92,418.28 L480.70,415.81 L482.48,413.32 L484.25,410.82 L486.03,408.30 L487.80,405.77 L489.58,403.22 L491.36,400.66 L493.13,398.08 L494.91,395.49 L496.68,392.89 L498.46,390.28 L500.23,387.65 L502.01,385.02 L503.79,382.37 L505.56,379.72 L507.34,377.06 L509.11,374.38 L510.89,371.71 L512.67,369.02 L514.44,366.33 L516.22,363.63 L517.99,360.93 L519.77,358.22 L521.55,355.51 L523.32,352.80 L525.10,350.08 L526.87,347.36 L528.65,344.64 L530.42,341.93 L532.20,339.21 L533.98,336.49 L535.75,333.77 L537.53,331.05 L539.30,328.34 L541.08,325.63 L542.86,322.92 L544.63,320.22 L546.41,317.52 L548.18,314.83 L549.96,312.14 L551.74,309.47 L553.51,306.79 L555.29,304.13 L557.06,301.48 L558.84,298.83 L560.62,296.20 L562.39,293.57 L564.17,290.96 L565.94,288.36 L567.72,285.77 L569.49,283.19 L571.27,280.63 L573.05,278.08 L574.82,275.55 L576.60,273.03 L578.37,270.53 L580.15,268.04 L581.93,265.57 L583.70,263.12 L585.48,260.69 L587.25,258.28 L589.03,255.88 L590.81,253.51 L592.58,251.15 L594.36,248.82 L596.13,246.50 L597.91,244.21 L599.69,241.95 L601.46,239.70 L603.24,237.48 L605.01,235.29 L606.79,233.11 L608.56,230.97 L610.34,228.84 L612.12,226.75 L613.89,224.68 L615.67,222.64 L617.44,220.62 L619.22,218.64 L621.00,216.68 L622.77,214.75 L624.55,212.85 L626.32,210.98 L628.10,209.14 L629.88,207.33 L631.65,205.55 L633.43,203.80 L635.20,202.09 L636.98,200.41 L638.75,198.75 L640.53,197.14 L642.31,195.55 L644.08,194.00 L645.86,192.48 L647.63,191.00 L649.41,189.55 L651.19,188.14 L652.96,186.76 L654.74,185.41 L656.51,184.11 L658.29,182.83 L660.07,181.60 L661.84,180.40 L663.62,179.24 L665.39,178.11 L667.17,177.02 L668.95,175.97 L670.72,174.96 L672.50,173.98 L674.27,173.05 L676.05,172.15 L677.82,171.28 L679.60,170.46 L681.38,169.68 L683.15,168.93 L684.93,168.22 L686.70,167.55 L688.48,166.92 L690.26,166.33 L692.03,165.78 L693.81,165.27 L695.58,164.79 L697.36,164.36 L699.14,163.96 L700.91,163.60 L702.69,163.28 L704.46,163.00 L706.24,162.76 L708.01,162.56 L709.79,162.40 L711.57,162.27 L713.34,162.19 L715.12,162.14 L716.89,162.13 L718.67,162.16 L720.45,162.22 L722.22,162.32 L724.00,162.46 L725.77,162.64 L727.55,162.86 L729.33,163.11 L731.10,163.40 L732.88,163.72 L734.65,164.08 L736.43,164.47 L738.21,164.91 L739.98,165.37 L741.76,165.87 L743.53,166.40 L745.31,166.97 L747.08,167.57 L748.86,168.20 L750.64,168.87 L752.41,169.56 L754.19,170.29 L755.96,171.05 L757.74,171.84 L759.52,172.66 L761.29,173.51 L763.07,174.38 L764.84,175.29 L766.62,176.22 L768.40,177.18 L770.17,178.16 L771.95,179.17 L773.72,180.21 L775.50,181.27 L777.28,182.35 L779.05,183.45 L780.83,184.58 L782.60,185.72 L784.38,186.89 L786.15,188.07 L787.93,189.28 L789.71,190.50 L791.48,191.73 L793.26,192.99 L795.03,194.25 L796.81,195.53 L798.59,196.83 L800.36,198.13 L802.14,199.45 L803.91,200.77 L805.69,202.11 L807.47,203.45 L809.24,204.79 L811.02,206.15 L812.79,207.50 L814.57,208.86 L816.34,210.22 L818.12,211.58 L819.90,212.94 L821.67,214.29 L823.45,215.65 L825.22,216.99 L827.00,218.34 L828.78,219.67 L830.55,220.99 L832.33,222.31 L834.10,223.61 L835.88,224.90 L837.66,226.17 L839.43,227.43 L841.21,228.67 L842.98,229.89 L844.76,231.08 L846.54,232.26 L848.31,233.41 L850.09,234.53 L851.86,235.63 L853.64,236.69 L855.41,237.73 L857.19,238.73 L858.97,239.69 L860.74,240.62 L862.52,241.51 L864.29,242.36 L866.07,243.17 L867.85,243.93 L869.62,244.65 L871.40,245.31 L873.17,245.93 L874.95,246.49 L876.73,247.00 L878.50,247.45 L880.28,247.85 L882.05,248.18 L883.83,248.45 L885.61,248.65 L887.38,248.78 L889.16,248.85 L890.93,248.84 L892.71,248.76 L894.48,248.60 L896.26,248.36 L898.04,248.04 L899.81,247.63 L901.59,247.14 L903.36,246.55 L905.14,245.88 L906.92,245.11 L908.69,244.24 L910.47,243.27 L912.24,242.20 L914.02,241.03 L915.80,239.75 L917.57,238.35 L919.35,236.84 L921.12,235.22 L922.90,233.48 L924.67,231.61 L926.45,229.62 L928.23,227.50 L930.00,225.25 L931.78,222.86 L933.55,220.34 L935.33,217.68 L937.11,214.87 L938.88,211.92 L940.66,208.81 L942.43,205.56 L944.21,202.14 L945.99,198.57 L947.76,194.84 L949.54,190.94 L951.31,186.86 L953.09,182.62 L954.87,178.20 L956.64,173.60 L958.42,168.81 L960.19,163.84 L961.97,158.68 L963.74,153.32 L965.52,147.76 L967.30,142.00 L969.07,136.04 L970.85,129.87 L972.62,123.48 L974.40,116.88 L974.40,451.42 L972.62,449.25 L970.85,447.06 L969.07,444.85 L967.30,442.61 L965.52,440.35 L963.74,438.07 L961.97,435.77 L960.19,433.44 L958.42,431.09 L956.64,428.72 L954.87,426.33 L953.09,423.93 L951.31,421.50 L949.54,419.05 L947.76,416.59 L945.99,414.11 L944.21,411.61 L942.43,409.10 L940.66,406.57 L938.88,404.03 L937.11,401.47 L935.33,398.90 L933.55,396.31 L931.78,393.71 L930.00,391.10 L928.23,388.48 L926.45,385.85 L924.67,383.21 L922.90,380.56 L921.12,377.90 L919.35,375.23 L917.57,372.55 L915.80,369.87 L914.02,367.18 L912.24,364.49 L910.47,361.78 L908.69,359.08 L906.92,356.37 L905.14,353.66 L903.36,350.94 L901.59,348.22 L899.81,345.51 L898.04,342.79 L896.26,340.07 L894.48,337.35 L892.71,334.63 L890.93,331.91 L889.16,329.20 L887.38,326.48 L885.61,323.78 L883.83,321.07 L882.05,318.37 L880.28,315.68 L878.50,312.99 L876.73,310.31 L874.95,307.64 L873.17,304.97 L871.40,302.32 L869.62,299.67 L867.85,297.03 L866.07,294.40 L864.29,291.78 L862.52,289.18 L860.74,286.59 L858.97,284.01 L857.19,281.44 L855.41,278.89 L853.64,276.35 L851.86,273.83 L850.09,271.32 L848.31,268.83 L846.54,266.35 L844.76,263.90 L842.98,261.46 L841.21,259.04 L839.43,256.64 L837.66,254.25 L835.88,251.89 L834.10,249.55 L832.33,247.23 L830.55,244.94 L828.78,242.66 L827.00,240.41 L825.22,238.18 L823.45,235.98 L821.67,233.80 L819.90,231.64 L818.12,229.51 L816.34,227.41 L814.57,225.33 L812.79,223.28 L811.02,221.26 L809.24,219.27 L807.47,217.30 L805.69,215.36 L803.91,213.46 L802.14,211.58 L800.36,209.73 L798.59,207.91 L796.81,206.12 L795.03,204.37 L793.26,202.64 L791.48,200.95 L789.71,199.29 L787.93,197.67 L786.15,196.07 L784.38,194.52 L782.60,192.99 L780.83,191.50 L779.05,190.04 L777.28,188.62 L775.50,187.24 L773.72,185.89 L771.95,184.57 L770.17,183.30 L768.40,182.06 L766.62,180.85 L764.84,179.69 L763.07,178.56 L761.29,177.47 L759.52,176.41 L757.74,175.40 L755.96,174.42 L754.19,173.48 L752.41,172.58 L750.64,171.72 L748.86,170.90 L747.08,170.12 L745.31,169.38 L743.53,168.68 L741.76,168.02 L739.98,167.40 L738.21,166.82 L736.43,166.28 L734.65,165.78 L732.88,165.32 L731.10,164.90 L729.33,164.52 L727.55,164.19 L725.77,163.89 L724.00,163.64 L722.22,163.42 L720.45,163.25 L718.67,163.12 L716.89,163.03 L715.12,162.98 L713.34,162.98 L711.57,163.01 L709.79,163.09 L708.01,163.21 L706.24,163.36 L704.46,163.56 L702.69,163.81 L700.91,164.09 L699.14,164.41 L697.36,164.78 L695.58,165.18 L693.81,165.63 L692.03,166.11 L690.26,166.64 L688.48,167.21 L686.70,167.82 L684.93,168.47 L683.15,169.16 L681.38,169.88 L679.60,170.65 L677.82,171.46 L676.05,172.31 L674.27,173.19 L672.50,174.12 L670.72,175.08 L668.95,176.09 L667.17,177.13 L665.39,178.21 L663.62,179.33 L661.84,180.48 L660.07,181.67 L658.29,182.90 L656.51,184.17 L654.74,185.47 L652.96,186.81 L651.19,188.18 L649.41,189.59 L647.63,191.04 L645.86,192.51 L644.08,194.03 L642.31,195.58 L640.53,197.16 L638.75,198.78 L636.98,200.42 L635.20,202.11 L633.43,203.82 L631.65,205.56 L629.88,207.34 L628.10,209.15 L626.32,210.99 L624.55,212.86 L622.77,214.76 L621.00,216.69 L619.22,218.64 L617.44,220.63 L615.67,222.64 L613.89,224.68 L612.12,226.75 L610.34,228.85 L608.56,230.97 L606.79,233.11 L605.01,235.29 L603.24,237.48 L601.46,239.70 L599.69,241.95 L597.91,244.22 L596.13,246.51 L594.36,248.82 L592.58,251.15 L590.81,253.51 L589.03,255.88 L587.25,258.28 L585.48,260.69 L583.70,263.12 L581.93,265.57 L580.15,268.04 L578.37,270.53 L576.60,273.03 L574.82,275.55 L573.05,278.08 L571.27,280.63 L569.49,283.19 L567.72,285.77 L565.94,288.36 L564.17,290.96 L562.39,293.57 L560.62,296.20 L558.84,298.83 L557.06,301.48 L555.29,304.13 L553.51,306.79 L551.74,309.47 L549.96,312.14 L548.18,314.83 L546.41,317.52 L544.63,320.22 L542.86,322.92 L541.08,325.63 L539.30,328.34 L537.53,331.05 L535.75,333.77 L533.98,336.49 L532.20,339.21 L530.42,341.93 L528.65,344.64 L526.87,347.36 L525.10,350.08 L523.32,352.80 L521.55,355.51 L519.77,358.22 L517.99,360.93 L516.22,363.63 L514.44,366.33 L512.67,369.02 L510.89,371.71 L509.11,374.38 L507.34,377.06 L505.56,379.72 L503.79,382.37 L502.01,385.02 L500.23,387.65 L498.46,390.28 L496.68,392.89 L494.91,395.49 L493.13,398.08 L491.36,400.66 L489.58,403.22 L487.80,405.77 L486.03,408.30 L484.25,410.82 L482.48,413.32 L480.70,415.81 L478.92,418.28 L477.15,420.73 L475.37,423.16 L473.60,425.57 L471.82,427.97 L470.04,430.34 L468.27,432.70 L466.49,435.03 L464.72,437.34 L462.94,439.63 L461.16,441.90 L459.39,444.15 L457.61,446.37 L455.84,448.56 L454.06,450.74 L452.29,452.88 L450.51,455.00 L448.73,457.10 L446.96,459.17 L445.18,461.21 L443.41,463.22 L441.63,465.21 L439.85,467.16 L438.08,469.09 L436.30,470.99 L434.53,472.86 L432.75,474.70 L430.97,476.51 L429.20,478.29 L427.42,480.03 L425.65,481.74 L423.87,483.43 L422.10,485.07 L420.32,486.69 L418.54,488.27 L416.77,489.82 L414.99,491.34 L413.22,492.81 L411.44,494.26 L409.66,495.67 L407.89,497.04 L406.11,498.38 L404.34,499.68 L402.56,500.95 L400.78,502.18 L399.01,503.37 L397.23,504.52 L395.46,505.64 L393.68,506.72 L391.90,507.76 L390.13,508.77 L388.35,509.73 L386.58,510.66 L384.80,511.54 L383.03,512.39 L381.25,513.20 L379.47,513.97 L377.70,514.69 L375.92,515.38 L374.15,516.03 L372.37,516.64 L370.59,517.21 L368.82,517.74 L367.04,518.22 L365.27,518.67 L363.49,519.07 L361.71,519.44 L359.94,519.76 L358.16,520.04 L356.39,520.29 L354.61,520.49 L352.83,520.64 L351.06,520.76 L349.28,520.84 L347.51,520.87 L345.73,520.87 L343.96,520.82 L342.18,520.73 L340.40,520.60 L338.63,520.43 L336.85,520.21 L335.08,519.96 L333.30,519.66 L331.52,519.33 L329.75,518.95 L327.97,518.53 L326.20,518.07 L324.42,517.57 L322.64,517.03 L320.87,516.45 L319.09,515.83 L317.32,515.17 L315.54,514.47 L313.77,513.73 L311.99,512.95 L310.21,512.13 L308.44,511.27 L306.66,510.37 L304.89,509.43 L303.11,508.45 L301.33,507.44 L299.56,506.38 L297.78,505.29 L296.01,504.16 L294.23,503.00 L292.45,501.79 L290.68,500.55 L288.90,499.28 L287.13,497.96 L285.35,496.61 L283.57,495.23 L281.80,493.81 L280.02,492.35 L278.25,490.86 L276.47,489.33 L274.70,487.78 L272.92,486.18 L271.14,484.56 L269.37,482.90 L267.59,481.21 L265.82,479.48 L264.04,477.73 L262.26,475.94 L260.49,474.12 L258.71,472.27 L256.94,470.39 L255.16,468.49 L253.38,466.55 L251.61,464.58 L249.83,462.59 L248.06,460.57 L246.28,458.52 L244.51,456.44 L242.73,454.34 L240.95,452.21 L239.18,450.05 L237.40,447.87 L235.63,445.67 L233.85,443.44 L232.07,441.19 L230.30,438.91 L228.52,436.62 L226.75,434.30 L224.97,431.96 L223.19,429.60 L221.42,427.21 L219.64,424.81 L217.87,422.39 L216.09,419.95 L214.31,417.50 L212.54,415.02 L210.76,412.53 L208.99,410.02 L207.21,407.50 L205.44,404.96 L203.66,402.41 L201.88,399.84 L200.11,397.26 L198.33,394.67 L196.56,392.07 L194.78,389.45 L193.00,386.82 L191.23,384.18 L189.45,381.53 L187.68,378.88 L185.90,376.21 L184.12,373.54 L182.35,370.86 L180.57,368.17 L178.80,365.48 L177.02,362.78 L175.24,360.07 L173.47,357.37 L171.69,354.65 L169.92,351.94 L168.14,349.22 L166.37,346.50 L164.59,343.78 L162.81,341.06 L161.04,338.34 L159.26,335.63 L157.49,332.91 L155.71,330.19 L153.93,327.48 L152.16,324.77 L150.38,322.07 L148.61,319.36 L146.83,316.67 L145.05,313.98 L143.28,311.30 L141.50,308.62 L139.73,305.95 L137.95,303.29 L136.18,300.64 L134.40,298.00 L132.62,295.37 L130.85,292.75 L129.07,290.14 L127.30,287.54 L125.52,284.95 L123.74,282.38 L121.97,279.82 L120.19,277.28 L118.42,274.75 L116.64,272.24 L114.86,269.74 L113.09,267.26 L111.31,264.80 L109.54,262.35 L107.76,259.92 L105.98,257.52 L104.21,255.13 L102.43,252.76 L100.66,250.41 L98.88,248.08 L97.11,245.78 L95.33,243.50 L93.55,241.24 L91.78,239.00 L90.00,236.79 L88.23,234.60 L86.45,232.43Z" fill="#3182BD" fill-opacity="0.60"/>
<path d="M86.45,160.73 L88.23,165.36 L90.00,169.95 L91.78,174.49 L93.55,178.97 L95.33,183.42 L97.11,187.82 L98.88,192.17 L100.66,196.48 L102.43,200.75 L104.21,204.98 L105.98,209.17 L107.76,213.33 L109.54,217.45 L111.31,221.53 L113.09,225.57 L114.86,229.59 L116.64,233.56 L118.42,237.51 L120.19,241.43 L121.97,245.31 L123.74,249.17 L125.52,252.99 L127.30,256.79 L129.07,260.56 L130.85,264.30 L132.62,268.01 L134.40,271.70 L136.18,275.36 L137.95,279.00 L139.73,282.61 L141.50,286.20 L143.28,289.76 L145.05,293.30 L146.83,296.81 L148.61,300.30 L150.38,303.77 L152.16,307.22 L153.93,310.64 L155.71,314.04 L157.49,317.42 L159.26,320.77 L161.04,324.11 L162.81,327.42 L164.59,330.71 L166.37,333.98 L168.14,337.23 L169.92,340.46 L171.69,343.66 L173.47,346.84 L175.24,350.01 L177.02,353.15 L178.80,356.26 L180.57,359.36 L182.35,362.44 L184.12,365.49 L185.90,368.52 L187.68,371.53 L189.45,374.52 L191.23,377.48 L193.00,380.42 L194.78,383.34 L196.56,386.24 L198.33,389.11 L200.11,391.97 L201.88,394.79 L203.66,397.60 L205.44,400.38 L207.21,403.13 L208.99,405.86 L210.76,408.57 L212.54,411.25 L214.31,413.91 L216.09,416.54 L217.87,419.15 L219.64,421.73 L221.42,424.28 L223.19,426.81 L224.97,429.31 L226.75,431.78 L228.52,434.23 L230.30,436.65 L232.07,439.04 L233.85,441.40 L235.63,443.74 L237.40,446.04 L239.18,448.32 L240.95,450.56 L242.73,452.78 L244.51,454.97 L246.28,457.12 L248.06,459.25 L249.83,461.34 L251.61,463.41 L253.38,465.44 L255.16,467.44 L256.94,469.40 L258.71,471.34 L260.49,473.24 L262.26,475.11 L264.04,476.94 L265.82,478.74 L267.59,480.51 L269.37,482.24 L271.14,483.94 L272.92,485.60 L274.70,487.23 L276.47,488.82 L278.25,490.38 L280.02,491.90 L281.80,493.38 L283.57,494.83 L285.35,496.24 L287.13,497.61 L288.90,498.95 L290.68,500.25 L292.45,501.51 L294.23,502.73 L296.01,503.91 L297.78,505.06 L299.56,506.17 L301.33,507.23 L303.11,508.26 L304.89,509.25 L306.66,510.20 L308.44,511.11 L310.21,511.98 L311.99,512.81 L313.77,513.60 L315.54,514.35 L317.32,515.06 L319.09,515.73 L320.87,516.36 L322.64,516.95 L324.42,517.49 L326.20,518.00 L327.97,518.46 L329.75,518.89 L331.52,519.27 L333.30,519.61 L335.08,519.91 L336.85,520.17 L338.63,520.38 L340.40,520.56 L342.18,520.69 L343.96,520.79 L345.73,520.84 L347.51,520.85 L349.28,520.81 L351.06,520.74 L352.83,520.62 L354.61,520.47 L356.39,520.27 L358.16,520.03 L359.94,519.75 L361.71,519.43 L363.49,519.06 L365.27,518.66 L367.04,518.21 L368.82,517.73 L370.59,517.20 L372.37,516.63 L374.15,516.02 L375.92,515.38 L377.70,514.69 L379.47,513.96 L381.25,513.19 L383.03,512.38 L384.80,511.54 L386.58,510.65 L388.35,509.73 L390.13,508.76 L391.90,507.76 L393.68,506.72 L395.46,505.64 L397.23,504.52 L399.01,503.37 L400.78,502.18 L402.56,500.95 L404.34,499.68 L406.11,498.38 L407.89,497.04 L409.66,495.67 L411.44,494.26 L413.22,492.81 L414.99,491.33 L416.77,489.82 L418.54,488.27 L420.32,486.69 L422.10,485.07 L423.87,483.43 L425.65,481.74 L427.42,480.03 L429.20,478.29 L430.97,476.51 L432.75,474.70 L434.53,472.86 L436.30,470.99 L438.08,469.09 L439.85,467.16 L441.63,465.21 L443.41,463.22 L445.18,461.21 L446.96,459.17 L448.73,457.10 L450.51,455.00 L452.29,452.88 L454.06,450.74 L455.84,448.56 L457.61,446.37 L459.39,444.15 L461.16,441.90 L462.94,439.63 L464.72,437.34 L466.49,435.03 L468.27,432.70 L470.04,430.34 L471.82,427.97 L473.60,425.57 L475.37,423.16 L477.15,420.73 L478.92,418.28 L480.70,415.81 L482.48,413.32 L484.25,410.82 L486.03,408.30 L487.80,405.77 L489.58,403.22 L491.36,400.66 L493.13,398.08 L494.91,395.49 L496.68,392.89 L498.46,390.28 L500.23,387.65 L502.01,385.02 L503.79,382.37 L505.56,379.72 L507.34,377.06 L509.11,374.38 L510.89,371.71 L512.67,369.02 L514.44,366.33 L516.22,363.63 L517.99,360.93 L519.77,358.22 L521.55,355.51 L523.32,352.80 L525.10,350.08 L526.87,347.36 L528.65,344.64 L530.42,341.93 L532.20,339.21 L533.98,336.49 L535.75,333.77 L537.53,331.05 L539.30,328.34 L541.08,325.63 L542.86,322.92 L544.63,320.22 L546.41,317.52 L548.18,314.83 L549.96,312.14 L551.74,309.47 L553.51,306.79 L555.29,304.13 L557.06,301.48 L558.84,298.83 L560.62,296.20 L562.39,293.57 L564.17,290.96 L565.94,288.36 L567.72,285.77 L569.49,283.19 L571.27,280.63 L573.05,278.08 L574.82,275.55 L576.60,273.03 L578.37,270.53 L580.15,268.04 L581.93,265.57 L583.70,263.12 L585.48,260.69 L587.25,258.28 L589.03,255.88 L590.81,253.51 L592.58,251.15 L594.36,248.82 L596.13,246.51 L597.91,244.22 L599.69,241.95 L601.46,239.70 L603.24,237.48 L605.01,235.29 L606.79,233.11 L608.56,230.97 L610.34,228.85 L612.12,226.75 L613.89,224.68 L615.67,222.64 L617.44,220.63 L619.22,218.64 L621.00,216.69 L622.77,214.76 L624.55,212.86 L626.32,210.99 L628.10,209.15 L629.88,207.34 L631.65,205.56 L633.43,203.82 L635.20,202.11 L636.98,200.42 L638.75,198.78 L640.53,197.16 L642.31,195.58 L644.08,194.03 L645.86,192.52 L647.63,191.04 L649.41,189.59 L651.19,188.18 L652.96,186.81 L654.74,185.47 L656.51,184.17 L658.29,182.90 L660.07,181.67 L661.84,180.48 L663.62,179.33 L665.39,178.21 L667.17,177.13 L668.95,176.09 L670.72,175.09 L672.50,174.12 L674.27,173.20 L676.05,172.31 L677.82,171.47 L679.60,170.66 L681.38,169.89 L683.15,169.16 L684.93,168.47 L686.70,167.83 L688.48,167.22 L690.26,166.65 L692.03,166.12 L693.81,165.64 L695.58,165.19 L697.36,164.79 L699.14,164.42 L700.91,164.10 L702.69,163.82 L704.46,163.58 L706.24,163.38 L708.01,163.23 L709.79,163.11 L711.57,163.04 L713.34,163.00 L715.12,163.01 L716.89,163.06 L718.67,163.16 L720.45,163.29 L722.22,163.47 L724.00,163.68 L725.77,163.94 L727.55,164.24 L729.33,164.58 L731.10,164.96 L732.88,165.39 L734.65,165.85 L736.43,166.36 L738.21,166.90 L739.98,167.49 L741.76,168.12 L743.53,168.79 L745.31,169.50 L747.08,170.25 L748.86,171.04 L750.64,171.87 L752.41,172.74 L754.19,173.65 L755.96,174.60 L757.74,175.59 L759.52,176.62 L761.29,177.68 L763.07,178.79 L764.84,179.94 L766.62,181.12 L768.40,182.34 L770.17,183.60 L771.95,184.90 L773.72,186.24 L775.50,187.61 L777.28,189.02 L779.05,190.47 L780.83,191.95 L782.60,193.47 L784.38,195.03 L786.15,196.62 L787.93,198.25 L789.71,199.91 L791.48,201.61 L793.26,203.34 L795.03,205.11 L796.81,206.91 L798.59,208.74 L800.36,210.61 L802.14,212.51 L803.91,214.45 L805.69,216.41 L807.47,218.41 L809.24,220.44 L811.02,222.51 L812.79,224.60 L814.57,226.73 L816.34,228.88 L818.12,231.07 L819.90,233.29 L821.67,235.53 L823.45,237.81 L825.22,240.11 L827.00,242.45 L828.78,244.81 L830.55,247.20 L832.33,249.62 L834.10,252.07 L835.88,254.54 L837.66,257.04 L839.43,259.57 L841.21,262.12 L842.98,264.70 L844.76,267.31 L846.54,269.94 L848.31,272.60 L850.09,275.28 L851.86,277.99 L853.64,280.72 L855.41,283.47 L857.19,286.25 L858.97,289.06 L860.74,291.88 L862.52,294.74 L864.29,297.61 L866.07,300.51 L867.85,303.43 L869.62,306.37 L871.40,309.33 L873.17,312.32 L874.95,315.33 L876.73,318.36 L878.50,321.41 L880.28,324.49 L882.05,327.59 L883.83,330.70 L885.61,333.84 L887.38,337.01 L889.16,340.19 L890.93,343.39 L892.71,346.62 L894.48,349.87 L896.26,353.14 L898.04,356.43 L899.81,359.74 L901.59,363.08 L903.36,366.43 L905.14,369.81 L906.92,373.21 L908.69,376.63 L910.47,380.08 L912.24,383.55 L914.02,387.04 L915.80,390.55 L917.57,394.09 L919.35,397.65 L921.12,401.24 L922.90,404.85 L924.67,408.49 L926.45,412.15 L928.23,415.84 L930.00,419.55 L931.78,423.29 L933.55,427.06 L935.33,430.86 L937.11,434.68 L938.88,438.54 L940.66,442.42 L942.43,446.34 L944.21,450.29 L945.99,454.26 L947.76,458.28 L949.54,462.32 L951.31,466.40 L953.09,470.52 L954.87,474.68 L956.64,478.87 L958.42,483.10 L960.19,487.37 L961.97,491.68 L963.74,496.03 L965.52,500.43 L967.30,504.88 L969.07,509.36 L970.85,513.90 L972.62,518.49 L974.40,523.12 L974.40,451.42 L972.62,449.25 L970.85,447.06 L969.07,444.85 L967.30,442.61 L965.52,440.35 L963.74,438.07 L961.97,435.77 L960.19,433.44 L958.42,431.09 L956.64,428.72 L954.87,426.33 L953.09,423.93 L951.31,421.50 L949.54,419.05 L947.76,416.59 L945.99,414.11 L944.21,411.61 L942.43,409.10 L940.66,406.57 L938.88,404.03 L937.11,401.47 L935.33,398.90 L933.55,396.31 L931.78,393.71 L930.00,391.10 L928.23,388.48 L926.45,385.85 L924.67,383.21 L922.90,380.56 L921.12,377.90 L919.35,375.23 L917.57,372.55 L915.80,369.87 L914.02,367.18 L912.24,364.49 L910.47,361.78 L908.69,359.08 L906.92,356.37 L905.14,353.66 L903.36,350.94 L901.59,348.22 L899.81,345.51 L898.04,342.79 L896.26,340.07 L894.48,337.35 L892.71,334.63 L890.93,331.91 L889.16,329.20 L887.38,326.48 L885.61,323.78 L883.83,321.07 L882.05,318.37 L880.28,315.68 L878.50,312.99 L876.73,310.31 L874.95,307.64 L873.17,304.97 L871.40,302.32 L869.62,299.67 L867.85,297.03 L866.07,294.40 L864.29,291.78 L862.52,289.18 L860.74,286.59 L858.97,284.01 L857.19,281.44 L855.41,278.89 L853.64,276.35 L851.86,273.83 L850.09,271.32 L848.31,268.83 L846.54,266.35 L844.76,263.90 L842.98,261.46 L841.21,259.04 L839.43,256.64 L837.66,254.25 L835.88,251.89 L834.10,249.55 L832.33,247.23 L830.55,244.94 L828.78,242.66 L827.00,240.41 L825.22,238.18 L823.45,235.98 L821.67,233.80 L819.90,231.64 L818.12,229.51 L816.34,227.41 L814.57,225.33 L812.79,223.28 L811.02,221.26 L809.24,219.27 L807.47,217.30 L805.69,215.36 L803.91,213.46 L802.14,211.58 L800.36,209.73 L798.59,207.91 L796.81,206.12 L795.03,204.37 L793.26,202.64 L791.48,200.95 L789.71,199.29 L787.93,197.67 L786.15,196.07 L784.38,194.52 L782.60,192.99 L780.83,191.50 L779.05,190.04 L777.28,188.62 L775.50,187.24 L773.72,185.89 L771.95,184.57 L770.17,183.30 L768.40,182.06 L766.62,180.85 L764.84,179.69 L763.07,178.56 L761.29,177.47 L759.52,176.41 L757.74,175.40 L755.96,174.42 L754.19,173.48 L752.41,172.58 L750.64,171.72 L748.86,170.90 L747.08,170.12 L745.31,169.38 L743.53,168.68 L741.76,168.02 L739.98,167.40 L738.21,166.82 L736.43,166.28 L734.65,165.78 L732.88,165.32 L731.10,164.90 L729.33,164.52 L727.55,164.19 L725.77,163.89 L724.00,163.64 L722.22,163.42 L720.45,163.25 L718.67,163.12 L716.89,163.03 L715.12,162.98 L713.34,162.98 L711.57,163.01 L709.79,163.09 L708.01,163.21 L706.24,163.36 L704.46,163.56 L702.69,163.81 L700.91,164.09 L699.14,164.41 L697.36,164.78 L695.58,165.18 L693.81,165.63 L692.03,166.11 L690.26,166.64 L688.48,167.21 L686.70,167.82 L684.93,168.47 L683.15,169.16 L681.38,169.88 L679.60,170.65 L677.82,171.46 L676.05,172.31 L674.27,173.19 L672.50,174.12 L670.72,175.08 L668.95,176.09 L667.17,177.13 L665.39,178.21 L663.62,179.33 L661.84,180.48 L660.07,181.67 L658.29,182.90 L656.51,184.17 L654.74,185.47 L652.96,186.81 L651.19,188.18 L649.41,189.59 L647.63,191.04 L645.86,192.51 L644.08,194.03 L642.31,195.58 L640.53,197.16 L638.75,198.78 L636.98,200.42 L635.20,202.11 L633.43,203.82 L631.65,205.56 L629.88,207.34 L628.10,209.15 L626.32,210.99 L624.55,212.86 L622.77,214.76 L621.00,216.69 L619.22,218.64 L617.44,220.63 L615.67,222.64 L613.89,224.68 L612.12,226.75 L610.34,228.85 L608.56,230.97 L606.79,233.11 L605.01,235.29 L603.24,237.48 L601.46,239.70 L599.69,241.95 L597.91,244.22 L596.13,246.51 L594.36,248.82 L592.58,251.15 L590.81,253.51 L589.03,255.88 L587.25,258.28 L585.48,260.69 L583.70,263.12 L581.93,265.57 L580.15,268.04 L578.37,270.53 L576.60,273.03 L574.82,275.55 L573.05,278.08 L571.27,280.63 L569.49,283.19 L567.72,285.77 L565.94,288.36 L564.17,290.96 L562.39,293.57 L560.62,296.20 L558.84,298.83 L557.06,301.48 L555.29,304.13 L553.51,306.79 L551.74,309.47 L549.96,312.14 L548.18,314.83 L546.41,317.52 L544.63,320.22 L542.86,322.92 L541.08,325.63 L539.30,328.34 L537.53,331.05 L535.75,333.77 L533.98,336.49 L532.20,339.21 L530.42,341.93 L528.65,344.64 L526.87,347.36 L525.10,350.08 L523.32,352.80 L521.55,355.51 L519.77,358.22 L517.99,360.93 L516.22,363.63 L514.44,366.33 L512.67,369.02 L510.89,371.71 L509.11,374.38 L507.34,377.06 L505.56,379.72 L503.79,382.37 L502.01,385.02 L500.23,387.65 L498.46,390.28 L496.68,392.89 L494.91,395.49 L493.13,398.08 L491.36,400.66 L489.58,403.22 L487.80,405.77 L486.03,408.30 L484.25,410.82 L482.48,413.32 L480.70,415.81 L478.92,418.28 L477.15,420.73 L475.37,423.16 L473.60,425.57 L471.82,427.97 L470.04,430.34 L468.27,432.70 L466.49,435.03 L464.72,437.34 L462.94,439.63 L461.16,441.90 L459.39,444.15 L457.61,446.37 L455.84,448.56 L454.06,450.74 L452.29,452.88 L450.51,455.00 L448.73,457.10 L446.96,459.17 L445.18,461.21 L443.41,463.22 L441.63,465.21 L439.85,467.16 L438.08,469.09 L436.30,470.99 L434.53,472.86 L432.75,474.70 L430.97,476.51 L429.20,478.29 L427.42,480.03 L425.65,481.74 L423.87,483.43 L422.10,485.07 L420.32,486.69 L418.54,488.27 L416.77,489.82 L414.99,491.34 L413.22,492.81 L411.44,494.26 L409.66,495.67 L407.89,497.04 L406.11,498.38 L404.34,499.68 L402.56,500.95 L400.78,502.18 L399.01,503.37 L397.23,504.52 L395.46,505.64 L393.68,506.72 L391.90,507.76 L390.13,508.77 L388.35,509.73 L386.58,510.66 L384.80,511.54 L383.03,512.39 L381.25,513.20 L379.47,513.97 L377.70,514.69 L375.92,515.38 L374.15,516.03 L372.37,516.64 L370.59,517.21 L368.82,517.74 L367.04,518.22 L365.27,518.67 L363.49,519.07 L361.71,519.44 L359.94,519.76 L358.16,520.04 L356.39,520.29 L354.61,520.49 L352.83,520.64 L351.06,520.76 L349.28,520.84 L347.51,520.87 L345.73,520.87 L343.96,520.82 L342.18,520.73 L340.40,520.60 L338.63,520.43 L336.85,520.21 L335.08,519.96 L333.30,519.66 L331.52,519.33 L329.75,518.95 L327.97,518.53 L326.20,518.07 L324.42,517.57 L322.64,517.03 L320.87,516.45 L319.09,515.83 L317.32,515.17 L315.54,514.47 L313.77,513.73 L311.99,512.95 L310.21,512.13 L308.44,511.27 L306.66,510.37 L304.89,509.43 L303.11,508.45 L301.33,507.44 L299.56,506.38 L297.78,505.29 L296.01,504.16 L294.23,503.00 L292.45,501.79 L290.68,500.55 L288.90,499.28 L287.13,497.96 L285.35,496.61 L283.57,495.23 L281.80,493.81 L280.02,492.35 L278.25,490.86 L276.47,489.33 L274.70,487.78 L272.92,486.18 L271.14,484.56 L269.37,482.90 L267.59,481.21 L265.82,479.48 L264.04,477.73 L262.26,475.94 L260.49,474.12 L258.71,472.27 L256.94,470.39 L255.16,468.49 L253.38,466.55 L251.61,464.58 L249.83,462.59 L248.06,460.57 L246.28,458.52 L244.51,456.44 L242.73,454.34 L240.95,452.21 L239.18,450.05 L237.40,447.87 L235.63,445.67 L233.85,443.44 L232.07,441.19 L230.30,438.91 L228.52,436.62 L226.75,434.30 L224.97,431.96 L223.19,429.60 L221.42,427.21 L219.64,424.81 L217.87,422.39 L216.09,419.95 L214.31,417.50 L212.54,415.02 L210.76,412.53 L208.99,410.02 L207.21,407.50 L205.44,404.96 L203.66,402.41 L201.88,399.84 L200.11,397.26 L198.33,394.67 L196.56,392.07 L194.78,389.45 L193.00,386.82 L191.23,384.18 L189.45,381.53 L187.68,378.88 L185.90,376.21 L184.12,373.54 L182.35,370.86 L180.57,368.17 L178.80,365.48 L177.02,362.78 L175.24,360.07 L173.47,357.37 L171.69,354.65 L169.92,351.94 L168.14,349.22 L166.37,346.50 L164.59,343.78 L162.81,341.06 L161.04,338.34 L159.26,335.63 L157.49,332.91 L155.71,330.19 L153.93,327.48 L152.16,324.77 L150.38,322.07 L148.61,319.36 L146.83,316.67 L145.05,313.98 L143.28,311.30 L141.50,308.62 L139.73,305.95 L137.95,303.29 L136.18,300.64 L134.40,298.00 L132.62,295.37 L130.85,292.75 L129.07,290.14 L127.30,287.54 L125.52,284.95 L123.74,282.38 L121.97,279.82 L120.19,277.28 L118.42,274.75 L116.64,272.24 L114.86,269.74 L113.09,267.26 L111.31,264.80 L109.54,262.35 L107.76,259.92 L105.98,257.52 L104.21,255.13 L102.43,252.76 L100.66,250.41 L98.88,248.08 L97.11,245.78 L95.33,243.50 L93.55,241.24 L91.78,239.00 L90.00,236.79 L88.23,234.60 L86.45,232.43Z" fill="#E69F00" fill-opacity="0.60"/>
</g>
<g clip-path="url(#pc)"><path d="M163.50,79.99v0.60M163.50,86.38v0.60M163.50,99.14v0.60M163.50,118.30v0.60M163.50,131.07v0.60M163.50,137.45v0.60M163.50,150.22v0.60M163.50,163.00v0.60M163.50,169.38v0.60M163.50,182.15v0.60M163.50,201.30v0.60M163.50,214.07v0.60M163.50,220.46v0.60M163.50,233.23v0.60M163.50,246.00v0.60M163.50,252.38v0.60M163.50,265.15v0.60M163.50,277.93v0.60M163.50,284.31v0.60M163.50,297.08v0.60M163.50,303.46v0.60M163.50,316.23v0.60M163.50,329.00v0.60M163.50,335.39v0.60M163.50,348.16v0.60M163.50,360.93v0.60M163.50,367.31v0.60M163.50,380.08v0.60M163.50,386.47v0.60M163.50,399.24v0.60M163.50,412.01v0.60M163.50,418.39v0.60M163.50,431.17v0.60M163.50,443.94v0.60M163.50,450.32v0.60M163.50,463.09v0.60M163.50,469.47v0.60M163.50,482.24v0.60M163.50,495.01v0.60M163.50,501.40v0.60M163.50,514.17v0.60M163.50,526.94v0.60M163.50,533.33v0.60M163.50,546.10v0.60M163.50,552.48v0.60M163.50,565.25v0.60M163.50,578.02v0.60M163.50,584.40v0.60M163.50,597.17v0.60M346.50,79.99v0.60M346.50,86.38v0.60M346.50,99.14v0.60M346.50,118.30v0.60M346.50,131.07v0.60M346.50,137.45v0.60M346.50,150.22v0.60M346.50,163.00v0.60M346.50,169.38v0.60M346.50,182.15v0.60M346.50,201.30v0.60M346.50,214.07v0.60M346.50,220.46v0.60M346.50,233.23v0.60M346.50,246.00v0.60M346.50,252.38v0.60M346.50,265.15v0.60M346.50,277.93v0.60M346.50,284.31v0.60M346.50,297.08v0.60M346.50,303.46v0.60M346.50,316.23v0.60M346.50,329.00v0.60M346.50,335.39v0.60M346.50,348.16v0.60M346.50,360.93v0.60M346.50,367.31v0.60M346.50,380.08v0.60M346.50,386.47v0.60M346.50,399.24v0.60M346.50,412.01v0.60M346.50,418.39v0.60M346.50,431.17v0.60M346.50,443.94v0.60M346.50,450.32v0.60M346.50,463.09v0.60M346.50,469.47v0.60M346.50,482.24v0.60M346.50,495.01v0.60M346.50,501.40v0.60M346.50,514.17v0.60M346.50,526.94v0.60M346.50,533.33v0.60M346.50,546.10v0.60M346.50,552.48v0.60M346.50,565.25v0.60M346.50,578.02v0.60M346.50,584.40v0.60M346.50,597.17v0.60M530.50,79.99v0.60M530.50,86.38v0.60M530.50,99.14v0.60M530.50,118.30v0.60M530.50,131.07v0.60M530.50,137.45v0.60M530.50,150.22v0.60M530.50,163.00v0.60M530.50,169.38v0.60M530.50,182.15v0.60M530.50,201.30v0.60M530.50,214.07v0.60M530.50,220.46v0.60M530.50,233.23v0.60M530.50,246.00v0.60M530.50,252.38v0.60M530.50,265.15v0.60M530.50,277.93v0.60M530.50,284.31v0.60M530.50,297.08v0.60M530.50,303.46v0.60M530.50,316.23v0.60M530.50,329.00v0.60M530.50,335.39v0.60M530.50,348.16v0.60M530.50,360.93v0.60M530.50,367.31v0.60M530.50,380.08v0.60M530.50,386.47v0.60M530.50,399.24v0.60M530.50,412.01v0.60M530.50,418.39v0.60M530.50,431.17v0.60M530.50,443.94v0.60M530.50,450.32v0.60M530.50,463.09v0.60M530.50,469.47v0.60M530.50,482.24v0.60M530.50,495.01v0.60M530.50,501.40v0.60M530.50,514.17v0.60M530.50,526.94v0.60M530.50,533.33v0.60M530.50,546.10v0.60M530.50,552.48v0.60M530.50,565.25v0.60M530.50,578.02v0.60M530.50,584.40v0.60M530.50,597.17v0.60M897.50,79.99v0.60M897.50,86.38v0.60M897.50,99.14v0.60M897.50,118.30v0.60M897.50,131.07v0.60M897.50,137.45v0.60M897.50,150.22v0.60M897.50,163.00v0.60M897.50,169.38v0.60M897.50,182.15v0.60M897.50,201.30v0.60M897.50,214.07v0.60M897.50,220.46v0.60M897.50,233.23v0.60M897.50,246.00v0.60M897.50,252.38v0.60M897.50,265.15v0.60M897.50,277.93v0.60M897.50,284.31v0.60M897.50,297.08v0.60M897.50,303.46v0.60M897.50,316.23v0.60M897.50,329.00v0.60M897.50,335.39v0.60M897.50,348.16v0.60M897.50,360.93v0.60M897.50,367.31v0.60M897.50,380.08v0.60M897.50,386.47v0.60M897.50,399.24v0.60M897.50,412.01v0.60M897.50,418.39v0.60M897.50,431.17v0.60M897.50,443.94v0.60M897.50,450.32v0.60M897.50,463.09v0.60M897.50,469.47v0.60M897.50,482.24v0.60M897.50,495.01v0.60M897.50,501.40v0.60M897.50,514.17v0.60M897.50,526.94v0.60M897.50,533.33v0.60M897.50,546.10v0.60M897.50,552.48v0.60M897.50,565.25v0.60M897.50,578.02v0.60M897.50,584.40v0.60M897.50,597.17v0.60M86.98,162.50h0.60M93.36,162.50h0.60M106.13,162.50h0.60M125.29,162.50h0.60M138.06,162.50h0.60M144.44,162.50h0.60M157.21,162.50h0.60M169.98,162.50h0.60M176.37,162.50h0.60M189.13,162.50h0.60M208.29,162.50h0.60M221.06,162.50h0.60M227.44,162.50h0.60M240.22,162.50h0.60M252.98,162.50h0.60M259.37,162.50h0.60M272.14,162.50h0.60M291.30,162.50h0.60M304.06,162.50h0.60M310.45,162.50h0.60M323.22,162.50h0.60M335.99,162.50h0.60M342.37,162.50h0.60M355.15,162.50h0.60M374.30,162.50h0.60M387.07,162.50h0.60M393.45,162.50h0.60M406.22,162.50h0.60M418.99,162.50h0.60M425.38,162.50h0.60M438.15,162.50h0.60M450.92,162.50h0.60M457.31,162.50h0.60M470.07,162.50h0.60M476.46,162.50h0.60M489.23,162.50h0.60M502.00,162.50h0.60M508.38,162.50h0.60M521.16,162.50h0.60M533.93,162.50h0.60M540.31,162.50h0.60M553.08,162.50h0.60M559.47,162.50h0.60M572.24,162.50h0.60M585.00,162.50h0.60M591.39,162.50h0.60M604.16,162.50h0.60M616.93,162.50h0.60M623.32,162.50h0.60M636.09,162.50h0.60M642.47,162.50h0.60M655.24,162.50h0.60M668.01,162.50h0.60M674.39,162.50h0.60M687.16,162.50h0.60M699.94,162.50h0.60M706.32,162.50h0.60M719.09,162.50h0.60M725.48,162.50h0.60M738.25,162.50h0.60M751.01,162.50h0.60M757.40,162.50h0.60M770.17,162.50h0.60M782.94,162.50h0.60M789.33,162.50h0.60M802.10,162.50h0.60M808.48,162.50h0.60M821.25,162.50h0.60M834.02,162.50h0.60M840.40,162.50h0.60M853.17,162.50h0.60M865.95,162.50h0.60M872.33,162.50h0.60M885.10,162.50h0.60M904.25,162.50h0.60M917.02,162.50h0.60M923.41,162.50h0.60M936.18,162.50h0.60M948.95,162.50h0.60M955.34,162.50h0.60M968.11,162.50h0.60M86.98,252.50h0.60M93.36,252.50h0.60M106.13,252.50h0.60M125.29,252.50h0.60M138.06,252.50h0.60M144.44,252.50h0.60M157.21,252.50h0.60M169.98,252.50h0.60M176.37,252.50h0.60M189.13,252.50h0.60M208.29,252.50h0.60M221.06,252.50h0.60M227.44,252.50h0.60M240.22,252.50h0.60M252.98,252.50h0.60M259.37,252.50h0.60M272.14,252.50h0.60M291.30,252.50h0.60M304.06,252.50h0.60M310.45,252.50h0.60M323.22,252.50h0.60M335.99,252.50h0.60M342.37,252.50h0.60M355.15,252.50h0.60M374.30,252.50h0.60M387.07,252.50h0.60M393.45,252.50h0.60M406.22,252.50h0.60M418.99,252.50h0.60M425.38,252.50h0.60M438.15,252.50h0.60M450.92,252.50h0.60M457.31,252.50h0.60M470.07,252.50h0.60M476.46,252.50h0.60M489.23,252.50h0.60M502.00,252.50h0.60M508.38,252.50h0.60M521.16,252.50h0.60M533.93,252.50h0.60M540.31,252.50h0.60M553.08,252.50h0.60M559.47,252.50h0.60M572.24,252.50h0.60M585.00,252.50h0.60M591.39,252.50h0.60M604.16,252.50h0.60M616.93,252.50h0.60M623.32,252.50h0.60M636.09,252.50h0.60M642.47,252.50h0.60M655.24,252.50h0.60M668.01,252.50h0.60M674.39,252.50h0.60M687.16,252.50h0.60M699.94,252.50h0.60M706.32,252.50h0.60M719.09,252.50h0.60M725.48,252.50h0.60M738.25,252.50h0.60M751.01,252.50h0.60M757.40,252.50h0.60M770.17,252.50h0.60M782.94,252.50h0.60M789.33,252.50h0.60M802.10,252.50h0.60M808.48,252.50h0.60M821.25,252.50h0.60M834.02,252.50h0.60M840.40,252.50h0.60M853.17,252.50h0.60M865.95,252.50h0.60M872.33,252.50h0.60M885.10,252.50h0.60M904.25,252.50h0.60M917.02,252.50h0.60M923.41,252.50h0.60M936.18,252.50h0.60M948.95,252.50h0.60M955.34,252.50h0.60M968.11,252.50h0.60M86.98,341.50h0.60M93.36,341.50h0.60M106.13,341.50h0.60M125.29,341.50h0.60M138.06,341.50h0.60M144.44,341.50h0.60M157.21,341.50h0.60M169.98,341.50h0.60M176.37,341.50h0.60M189.13,341.50h0.60M208.29,341.50h0.60M221.06,341.50h0.60M227.44,341.50h0.60M240.22,341.50h0.60M252.98,341.50h0.60M259.37,341.50h0.60M272.14,341.50h0.60M291.30,341.50h0.60M304.06,341.50h0.60M310.45,341.50h0.60M323.22,341.50h0.60M335.99,341.50h0.60M342.37,341.50h0.60M355.15,341.50h0.60M374.30,341.50h0.60M387.07,341.50h0.60M393.45,341.50h0.60M406.22,341.50h0.60M418.99,341.50h0.60M425.38,341.50h0.60M438.15,341.50h0.60M450.92,341.50h0.60M457.31,341.50h0.60M470.07,341.50h0.60M476.46,341.50h0.60M489.23,341.50h0.60M502.00,341.50h0.60M508.38,341.50h0.60M521.16,341.50h0.60M533.93,341.50h0.60M540.31,341.50h0.60M553.08,341.50h0.60M559.47,341.50h0.60M572.24,341.50h0.60M585.00,341.50h0.60M591.39,341.50h0.60M604.16,341.50h0.60M616.93,341.50h0.60M623.32,341.50h0.60M636.09,341.50h0.60M642.47,341.50h0.60M655.24,341.50h0.60M668.01,341.50h0.60M674.39,341.50h0.60M687.16,341.50h0.60M699.94,341.50h0.60M706.32,341.50h0.60M719.09,341.50h0.60M725.48,341.50h0.60M738.25,341.50h0.60M751.01,341.50h0.60M757.40,341.50h0.60M770.17,341.50h0.60M782.94,341.50h0.60M789.33,341.50h0.60M802.10,341.50h0.60M808.48,341.50h0.60M821.25,341.50h0.60M834.02,341.50h0.60M840.40,341.50h0.60M853.17,341.50h0.60M865.95,341.50h0.60M872.33,341.50h0.60M885.10,341.50h0.60M904.25,341.50h0.60M917.02,341.50h0.60M923.41,341.50h0.60M936.18,341.50h0.60M948.95,341.50h0.60M955.34,341.50h0.60M968.11,341.50h0.60M86.98,431.50h0.60M93.36,431.50h0.60M106.13,431.50h0.60M125.29,431.50h0.60M138.06,431.50h0.60M144.44,431.50h0.60M157.21,431.50h0.60M169.98,431.50h0.60M176.37,431.50h0.60M189.13,431.50h0.60M208.29,431.50h0.60M221.06,431.50h0.60M227.44,431.50h0.60M240.22,431.50h0.60M252.98,431.50h0.60M259.37,431.50h0.60M272.14,431.50h0.60M291.30,431.50h0.60M304.06,431.50h0.60M310.45,431.50h0.60M323.22,431.50h0.60M335.99,431.50h0.60M342.37,431.50h0.60M355.15,431.50h0.60M374.30,431.50h0.60M387.07,431.50h0.60M393.45,431.50h0.60M406.22,431.50h0.60M418.99,431.50h0.60M425.38,431.50h0.60M438.15,431.50h0.60M450.92,431.50h0.60M457.31,431.50h0.60M470.07,431.50h0.60M476.46,431.50h0.60M489.23,431.50h0.60M502.00,431.50h0.60M508.38,431.50h0.60M521.16,431.50h0.60M533.93,431.50h0.60M540.31,431.50h0.60M553.08,431.50h0.60M559.47,431.50h0.60M572.24,431.50h0.60M585.00,431.50h0.60M591.39,431.50h0.60M604.16,431.50h0.60M616.93,431.50h0.60M623.32,431.50h0.60M636.09,431.50h0.60M642.47,431.50h0.60M655.24,431.50h0.60M668.01,431.50h0.60M674.39,431.50h0.60M687.16,431.50h0.60M699.94,431.50h0.60M706.32,431.50h0.60M719.09,431.50h0.60M725.48,431.50h0.60M738.25,431.50h0.60M751.01,431.50h0.60M757.40,431.50h0.60M770.17,431.50h0.60M782.94,431.50h0.60M789.33,431.50h0.60M802.10,431.50h0.60M808.48,431.50h0.60M821.25,431.50h0.60M834.02,431.50h0.60M840.40,431.50h0.60M853.17,431.50h0.60M865.95,431.50h0.60M872.33,431.50h0.60M885.10,431.50h0.60M904.25,431.50h0.60M917.02,431.50h0.60M923.41,431.50h0.60M936.18,431.50h0.60M948.95,431.50h0.60M955.34,431.50h0.60M968.11,431.50h0.60M86.98,520.50h0.60M93.36,520.50h0.60M106.13,520.50h0.60M125.29,520.50h0.60M138.06,520.50h0.60M144.44,520.50h0.60M157.21,520.50h0.60M169.98,520.50h0.60M176.37,520.50h0.60M189.13,520.50h0.60M208.29,520.50h0.60M221.06,520.50h0.60M227.44,520.50h0.60M240.22,520.50h0.60M252.98,520.50h0.60M259.37,520.50h0.60M272.14,520.50h0.60M291.30,520.50h0.60M304.06,520.50h0.60M310.45,520.50h0.60M323.22,520.50h0.60M335.99,520.50h0.60M342.37,520.50h0.60M355.15,520.50h0.60M374.30,520.50h0.60M387.07,520.50h0.60M393.45,520.50h0.60M406.22,520.50h0.60M418.99,520.50h0.60M425.38,520.50h0.60M438.15,520.50h0.60M450.92,520.50h0.60M457.31,520.50h0.60M470.07,520.50h0.60M476.46,520.50h0.60M489.23,520.50h0.60M502.00,520.50h0.60M508.38,520.50h0.60M521.16,520.50h0.60M533.93,520.50h0.60M540.31,520.50h0.60M553.08,520.50h0.60M559.47,520.50h0.60M572.24,520.50h0.60M585.00,520.50h0.60M591.39,520.50h0.60M604.16,520.50h0.60M616.93,520.50h0.60M623.32,520.50h0.60M636.09,520.50h0.60M642.47,520.50h0.60M655.24,520.50h0.60M668.01,520.50h0.60M674.39,520.50h0.60M687.16,520.50h0.60M699.94,520.50h0.60M706.32,520.50h0.60M719.09,520.50h0.60M725.48,520.50h0.60M738.25,520.50h0.60M751.01,520.50h0.60M757.40,520.50h0.60M770.17,520.50h0.60M782.94,520.50h0.60M789.33,520.50h0.60M802.10,520.50h0.60M808.48,520.50h0.60M821.25,520.50h0.60M834.02,520.50h0.60M840.40,520.50h0.60M853.17,520.50h0.60M865.95,520.50h0.60M872.33,520.50h0.60M885.10,520.50h0.60M904.25,520.50h0.60M917.02,520.50h0.60M923.41,520.50h0.60M936.18,520.50h0.60M948.95,520.50h0.60M955.34,520.50h0.60M968.11,520.50h0.60" stroke="#000" stroke-opacity="0.92" stroke-width="1" fill="none"/><path d="M163.50,73.61v0.60M163.50,92.76v0.60M163.50,105.53v0.60M163.50,111.92v0.60M163.50,124.69v0.60M163.50,143.84v0.60M163.50,156.61v0.60M163.50,175.76v0.60M163.50,188.53v0.60M163.50,194.92v0.60M163.50,207.69v0.60M163.50,226.84v0.60M163.50,239.61v0.60M163.50,258.77v0.60M163.50,271.54v0.60M163.50,290.69v0.60M163.50,309.85v0.60M163.50,322.62v0.60M163.50,341.78v0.60M163.50,354.55v0.60M163.50,373.70v0.60M163.50,392.85v0.60M163.50,405.62v0.60M163.50,424.78v0.60M163.50,437.55v0.60M163.50,456.70v0.60M163.50,475.86v0.60M163.50,488.63v0.60M163.50,507.79v0.60M163.50,520.56v0.60M163.50,539.71v0.60M163.50,558.87v0.60M163.50,571.63v0.60M163.50,590.79v0.60M163.50,603.56v0.60M346.50,73.61v0.60M346.50,92.76v0.60M346.50,105.53v0.60M346.50,111.92v0.60M346.50,124.69v0.60M346.50,143.84v0.60M346.50,156.61v0.60M346.50,175.76v0.60M346.50,188.53v0.60M346.50,194.92v0.60M346.50,207.69v0.60M346.50,226.84v0.60M346.50,239.61v0.60M346.50,258.77v0.60M346.50,271.54v0.60M346.50,290.69v0.60M346.50,309.85v0.60M346.50,322.62v0.60M346.50,341.78v0.60M346.50,354.55v0.60M346.50,373.70v0.60M346.50,392.85v0.60M346.50,405.62v0.60M346.50,424.78v0.60M346.50,437.55v0.60M346.50,456.70v0.60M346.50,475.86v0.60M346.50,488.63v0.60M346.50,507.79v0.60M346.50,520.56v0.60M346.50,539.71v0.60M346.50,558.87v0.60M346.50,571.63v0.60M346.50,590.79v0.60M346.50,603.56v0.60M530.50,73.61v0.60M530.50,92.76v0.60M530.50,105.53v0.60M530.50,111.92v0.60M530.50,124.69v0.60M530.50,143.84v0.60M530.50,156.61v0.60M530.50,175.76v0.60M530.50,188.53v0.60M530.50,194.92v0.60M530.50,207.69v0.60M530.50,226.84v0.60M530.50,239.61v0.60M530.50,258.77v0.60M530.50,271.54v0.60M530.50,290.69v0.60M530.50,309.85v0.60M530.50,322.62v0.60M530.50,341.78v0.60M530.50,354.55v0.60M530.50,373.70v0.60M530.50,392.85v0.60M530.50,405.62v0.60M530.50,424.78v0.60M530.50,437.55v0.60M530.50,456.70v0.60M530.50,475.86v0.60M530.50,488.63v0.60M530.50,507.79v0.60M530.50,520.56v0.60M530.50,539.71v0.60M530.50,558.87v0.60M530.50,571.63v0.60M530.50,590.79v0.60M530.50,603.56v0.60M713.95,73.61v0.60M713.95,79.99v0.60M713.95,86.38v0.60M713.95,92.76v0.60M713.95,99.14v0.60M713.95,105.53v0.60M713.95,111.92v0.60M713.95,118.30v0.60M713.95,124.69v0.60M713.95,131.07v0.60M713.95,137.45v0.60M713.95,143.84v0.60M713.95,150.22v0.60M713.95,156.61v0.60M713.95,163.00v0.60M713.95,169.38v0.60M713.95,175.76v0.60M713.95,182.15v0.60M713.95,188.53v0.60M713.95,194.92v0.60M713.95,201.30v0.60M713.95,207.69v0.60M713.95,214.07v0.60M713.95,220.46v0.60M713.95,226.84v0.60M713.95,233.23v0.60M713.95,239.61v0.60M713.95,246.00v0.60M713.95,252.38v0.60M713.95,258.77v0.60M713.95,265.15v0.60M713.95,271.54v0.60M713.95,277.93v0.60M713.95,284.31v0.60M713.95,290.69v0.60M713.95,297.08v0.60M713.95,303.46v0.60M713.95,309.85v0.60M713.95,316.23v0.60M713.95,322.62v0.60M713.95,329.00v0.60M713.95,335.39v0.60M713.95,341.78v0.60M713.95,348.16v0.60M713.95,354.55v0.60M713.95,360.93v0.60M713.95,367.31v0.60M713.95,373.70v0.60M713.95,380.08v0.60M713.95,386.47v0.60M713.95,392.85v0.60M713.95,399.24v0.60M713.95,405.62v0.60M713.95,412.01v0.60M713.95,418.39v0.60M713.95,424.78v0.60M713.95,431.17v0.60M713.95,437.55v0.60M713.95,443.94v0.60M713.95,450.32v0.60M713.95,456.70v0.60M713.95,463.09v0.60M713.95,469.47v0.60M713.95,475.86v0.60M713.95,482.24v0.60M713.95,488.63v0.60M713.95,495.01v0.60M713.95,501.40v0.60M713.95,507.79v0.60M713.95,514.17v0.60M713.95,520.56v0.60M713.95,526.94v0.60M713.95,533.33v0.60M713.95,539.71v0.60M713.95,546.10v0.60M713.95,552.48v0.60M713.95,558.87v0.60M713.95,565.25v0.60M713.95,571.63v0.60M713.95,578.02v0.60M713.95,584.40v0.60M713.95,590.79v0.60M713.95,597.17v0.60M713.95,603.56v0.60M897.50,73.61v0.60M897.50,92.76v0.60M897.50,105.53v0.60M897.50,111.92v0.60M897.50,124.69v0.60M897.50,143.84v0.60M897.50,156.61v0.60M897.50,175.76v0.60M897.50,188.53v0.60M897.50,194.92v0.60M897.50,207.69v0.60M897.50,226.84v0.60M897.50,239.61v0.60M897.50,258.77v0.60M897.50,271.54v0.60M897.50,290.69v0.60M897.50,309.85v0.60M897.50,322.62v0.60M897.50,341.78v0.60M897.50,354.55v0.60M897.50,373.70v0.60M897.50,392.85v0.60M897.50,405.62v0.60M897.50,424.78v0.60M897.50,437.55v0.60M897.50,456.70v0.60M897.50,475.86v0.60M897.50,488.63v0.60M897.50,507.79v0.60M897.50,520.56v0.60M897.50,539.71v0.60M897.50,558.87v0.60M897.50,571.63v0.60M897.50,590.79v0.60M897.50,603.56v0.60M99.75,162.50h0.60M112.52,162.50h0.60M118.90,162.50h0.60M131.67,162.50h0.60M150.82,162.50h0.60M163.59,162.50h0.60M182.75,162.50h0.60M195.52,162.50h0.60M201.90,162.50h0.60M214.67,162.50h0.60M233.83,162.50h0.60M246.60,162.50h0.60M265.75,162.50h0.60M278.52,162.50h0.60M284.91,162.50h0.60M297.68,162.50h0.60M316.83,162.50h0.60M329.60,162.50h0.60M348.76,162.50h0.60M361.53,162.50h0.60M367.92,162.50h0.60M380.69,162.50h0.60M399.84,162.50h0.60M412.61,162.50h0.60M431.76,162.50h0.60M444.54,162.50h0.60M463.69,162.50h0.60M482.84,162.50h0.60M495.61,162.50h0.60M514.77,162.50h0.60M527.54,162.50h0.60M546.70,162.50h0.60M565.85,162.50h0.60M578.62,162.50h0.60M597.77,162.50h0.60M610.54,162.50h0.60M629.70,162.50h0.60M648.86,162.50h0.60M661.62,162.50h0.60M680.78,162.50h0.60M693.55,162.50h0.60M712.71,162.50h0.60M731.86,162.50h0.60M744.63,162.50h0.60M763.78,162.50h0.60M776.55,162.50h0.60M795.71,162.50h0.60M814.87,162.50h0.60M827.63,162.50h0.60M846.79,162.50h0.60M859.56,162.50h0.60M878.72,162.50h0.60M891.49,162.50h0.60M897.87,162.50h0.60M910.64,162.50h0.60M929.79,162.50h0.60M942.56,162.50h0.60M961.72,162.50h0.60M99.75,252.50h0.60M112.52,252.50h0.60M118.90,252.50h0.60M131.67,252.50h0.60M150.82,252.50h0.60M163.59,252.50h0.60M182.75,252.50h0.60M195.52,252.50h0.60M201.90,252.50h0.60M214.67,252.50h0.60M233.83,252.50h0.60M246.60,252.50h0.60M265.75,252.50h0.60M278.52,252.50h0.60M284.91,252.50h0.60M297.68,252.50h0.60M316.83,252.50h0.60M329.60,252.50h0.60M348.76,252.50h0.60M361.53,252.50h0.60M367.92,252.50h0.60M380.69,252.50h0.60M399.84,252.50h0.60M412.61,252.50h0.60M431.76,252.50h0.60M444.54,252.50h0.60M463.69,252.50h0.60M482.84,252.50h0.60M495.61,252.50h0.60M514.77,252.50h0.60M527.54,252.50h0.60M546.70,252.50h0.60M565.85,252.50h0.60M578.62,252.50h0.60M597.77,252.50h0.60M610.54,252.50h0.60M629.70,252.50h0.60M648.86,252.50h0.60M661.62,252.50h0.60M680.78,252.50h0.60M693.55,252.50h0.60M712.71,252.50h0.60M731.86,252.50h0.60M744.63,252.50h0.60M763.78,252.50h0.60M776.55,252.50h0.60M795.71,252.50h0.60M814.87,252.50h0.60M827.63,252.50h0.60M846.79,252.50h0.60M859.56,252.50h0.60M878.72,252.50h0.60M891.49,252.50h0.60M897.87,252.50h0.60M910.64,252.50h0.60M929.79,252.50h0.60M942.56,252.50h0.60M961.72,252.50h0.60M99.75,341.50h0.60M112.52,341.50h0.60M118.90,341.50h0.60M131.67,341.50h0.60M150.82,341.50h0.60M163.59,341.50h0.60M182.75,341.50h0.60M195.52,341.50h0.60M201.90,341.50h0.60M214.67,341.50h0.60M233.83,341.50h0.60M246.60,341.50h0.60M265.75,341.50h0.60M278.52,341.50h0.60M284.91,341.50h0.60M297.68,341.50h0.60M316.83,341.50h0.60M329.60,341.50h0.60M348.76,341.50h0.60M361.53,341.50h0.60M367.92,341.50h0.60M380.69,341.50h0.60M399.84,341.50h0.60M412.61,341.50h0.60M431.76,341.50h0.60M444.54,341.50h0.60M463.69,341.50h0.60M482.84,341.50h0.60M495.61,341.50h0.60M514.77,341.50h0.60M527.54,341.50h0.60M546.70,341.50h0.60M565.85,341.50h0.60M578.62,341.50h0.60M597.77,341.50h0.60M610.54,341.50h0.60M629.70,341.50h0.60M648.86,341.50h0.60M661.62,341.50h0.60M680.78,341.50h0.60M693.55,341.50h0.60M712.71,341.50h0.60M731.86,341.50h0.60M744.63,341.50h0.60M763.78,341.50h0.60M776.55,341.50h0.60M795.71,341.50h0.60M814.87,341.50h0.60M827.63,341.50h0.60M846.79,341.50h0.60M859.56,341.50h0.60M878.72,341.50h0.60M891.49,341.50h0.60M897.87,341.50h0.60M910.64,341.50h0.60M929.79,341.50h0.60M942.56,341.50h0.60M961.72,341.50h0.60M99.75,431.50h0.60M112.52,431.50h0.60M118.90,431.50h0.60M131.67,431.50h0.60M150.82,431.50h0.60M163.59,431.50h0.60M182.75,431.50h0.60M195.52,431.50h0.60M201.90,431.50h0.60M214.67,431.50h0.60M233.83,431.50h0.60M246.60,431.50h0.60M265.75,431.50h0.60M278.52,431.50h0.60M284.91,431.50h0.60M297.68,431.50h0.60M316.83,431.50h0.60M329.60,431.50h0.60M348.76,431.50h0.60M361.53,431.50h0.60M367.92,431.50h0.60M380.69,431.50h0.60M399.84,431.50h0.60M412.61,431.50h0.60M431.76,431.50h0.60M444.54,431.50h0.60M463.69,431.50h0.60M482.84,431.50h0.60M495.61,431.50h0.60M514.77,431.50h0.60M527.54,431.50h0.60M546.70,431.50h0.60M565.85,431.50h0.60M578.62,431.50h0.60M597.77,431.50h0.60M610.54,431.50h0.60M629.70,431.50h0.60M648.86,431.50h0.60M661.62,431.50h0.60M680.78,431.50h0.60M693.55,431.50h0.60M712.71,431.50h0.60M731.86,431.50h0.60M744.63,431.50h0.60M763.78,431.50h0.60M776.55,431.50h0.60M795.71,431.50h0.60M814.87,431.50h0.60M827.63,431.50h0.60M846.79,431.50h0.60M859.56,431.50h0.60M878.72,431.50h0.60M891.49,431.50h0.60M897.87,431.50h0.60M910.64,431.50h0.60M929.79,431.50h0.60M942.56,431.50h0.60M961.72,431.50h0.60M99.75,520.50h0.60M112.52,520.50h0.60M118.90,520.50h0.60M131.67,520.50h0.60M150.82,520.50h0.60M163.59,520.50h0.60M182.75,520.50h0.60M195.52,520.50h0.60M201.90,520.50h0.60M214.67,520.50h0.60M233.83,520.50h0.60M246.60,520.50h0.60M265.75,520.50h0.60M278.52,520.50h0.60M284.91,520.50h0.60M297.68,520.50h0.60M316.83,520.50h0.60M329.60,520.50h0.60M348.76,520.50h0.60M361.53,520.50h0.60M367.92,520.50h0.60M380.69,520.50h0.60M399.84,520.50h0.60M412.61,520.50h0.60M431.76,520.50h0.60M444.54,520.50h0.60M463.69,520.50h0.60M482.84,520.50h0.60M495.61,520.50h0.60M514.77,520.50h0.60M527.54,520.50h0.60M546.70,520.50h0.60M565.85,520.50h0.60M578.62,520.50h0.60M597.77,520.50h0.60M610.54,520.50h0.60M629.70,520.50h0.60M648.86,520.50h0.60M661.62,520.50h0.60M680.78,520.50h0.60M693.55,520.50h0.60M712.71,520.50h0.60M731.86,520.50h0.60M744.63,520.50h0.60M763.78,520.50h0.60M776.55,520.50h0.60M795.71,520.50h0.60M814.87,520.50h0.60M827.63,520.50h0.60M846.79,520.50h0.60M859.56,520.50h0.60M878.72,520.50h0.60M891.49,520.50h0.60M897.87,520.50h0.60M910.64,520.50h0.60M929.79,520.50h0.60M942.56,520.50h0.60M961.72,520.50h0.60" stroke="#000" stroke-opacity="0.5" stroke-width="1" fill="none"/><path d="M163.38,610.35v-11.50 M163.38,73.50v11.50" stroke="#000" stroke-opacity="0.92" stroke-width="0.85" fill="none"/><path d="M346.90,610.35v-11.50 M346.90,73.50v11.50" stroke="#000" stroke-opacity="0.92" stroke-width="0.85" fill="none"/><path d="M530.42,610.35v-11.50 M530.42,73.50v11.50" stroke="#000" stroke-opacity="0.92" stroke-width="0.85" fill="none"/><path d="M713.95,610.35v-11.50 M713.95,73.50v11.50" stroke="#000" stroke-opacity="0.92" stroke-width="0.85" fill="none"/><path d="M897.47,610.35v-11.50 M897.47,73.50v11.50" stroke="#000" stroke-opacity="0.92" stroke-width="0.85" fill="none"/><path d="M86.45,73.50h11.50 M974.40,73.50h-11.50" stroke="#000" stroke-opacity="0.92" stroke-width="0.85" fill="none"/><path d="M86.45,162.97h11.50 M974.40,162.97h-11.50" stroke="#000" stroke-opacity="0.92" stroke-width="0.85" fill="none"/><path d="M86.45,252.45h11.50 M974.40,252.45h-11.50" stroke="#000" stroke-opacity="0.92" stroke-width="0.85" fill="none"/><path d="M86.45,341.93h11.50 M974.40,341.93h-11.50" stroke="#000" stroke-opacity="0.92" stroke-width="0.85" fill="none"/><path d="M86.45,431.40h11.50 M974.40,431.40h-11.50" stroke="#000" stroke-opacity="0.92" stroke-width="0.85" fill="none"/><path d="M86.45,520.88h11.50 M974.40,520.88h-11.50" stroke="#000" stroke-opacity="0.92" stroke-width="0.85" fill="none"/><path d="M86.45,610.35h11.50 M974.40,610.35h-11.50" stroke="#000" stroke-opacity="0.92" stroke-width="0.85" fill="none"/></g>
<g clip-path="url(#pc)"><path d="M86.45,232.43 L88.23,234.60 L90.00,236.79 L91.78,239.00 L93.55,241.24 L95.33,243.50 L97.11,245.78 L98.88,248.08 L100.66,250.41 L102.43,252.76 L104.21,255.13 L105.98,257.52 L107.76,259.92 L109.54,262.35 L111.31,264.80 L113.09,267.26 L114.86,269.74 L116.64,272.24 L118.42,274.75 L120.19,277.28 L121.97,279.82 L123.74,282.38 L125.52,284.95 L127.30,287.54 L129.07,290.14 L130.85,292.75 L132.62,295.37 L134.40,298.00 L136.18,300.64 L137.95,303.29 L139.73,305.95 L141.50,308.62 L143.28,311.30 L145.05,313.98 L146.83,316.67 L148.61,319.36 L150.38,322.07 L152.16,324.77 L153.93,327.48 L155.71,330.19 L157.49,332.91 L159.26,335.63 L161.04,338.34 L162.81,341.06 L164.59,343.78 L166.37,346.50 L168.14,349.22 L169.92,351.94 L171.69,354.65 L173.47,357.37 L175.24,360.07 L177.02,362.78 L178.80,365.48 L180.57,368.17 L182.35,370.86 L184.12,373.54 L185.90,376.21 L187.68,378.88 L189.45,381.53 L191.23,384.18 L193.00,386.82 L194.78,389.45 L196.56,392.07 L198.33,394.67 L200.11,397.26 L201.88,399.84 L203.66,402.41 L205.44,404.96 L207.21,407.50 L208.99,410.02 L210.76,412.53 L212.54,415.02 L214.31,417.50 L216.09,419.95 L217.87,422.39 L219.64,424.81 L221.42,427.21 L223.19,429.60 L224.97,431.96 L226.75,434.30 L228.52,436.62 L230.30,438.91 L232.07,441.19 L233.85,443.44 L235.63,445.67 L237.40,447.87 L239.18,450.05 L240.95,452.21 L242.73,454.34 L244.51,456.44 L246.28,458.52 L248.06,460.57 L249.83,462.59 L251.61,464.58 L253.38,466.55 L255.16,468.49 L256.94,470.39 L258.71,472.27 L260.49,474.12 L262.26,475.94 L264.04,477.73 L265.82,479.48 L267.59,481.21 L269.37,482.90 L271.14,484.56 L272.92,486.18 L274.70,487.78 L276.47,489.33 L278.25,490.86 L280.02,492.35 L281.80,493.81 L283.57,495.23 L285.35,496.61 L287.13,497.96 L288.90,499.28 L290.68,500.55 L292.45,501.79 L294.23,503.00 L296.01,504.16 L297.78,505.29 L299.56,506.38 L301.33,507.44 L303.11,508.45 L304.89,509.43 L306.66,510.37 L308.44,511.27 L310.21,512.13 L311.99,512.95 L313.77,513.73 L315.54,514.47 L317.32,515.17 L319.09,515.83 L320.87,516.45 L322.64,517.03 L324.42,517.57 L326.20,518.07 L327.97,518.53 L329.75,518.95 L331.52,519.33 L333.30,519.66 L335.08,519.96 L336.85,520.21 L338.63,520.43 L340.40,520.60 L342.18,520.73 L343.96,520.82 L345.73,520.87 L347.51,520.87 L349.28,520.84 L351.06,520.76 L352.83,520.64 L354.61,520.49 L356.39,520.29 L358.16,520.04 L359.94,519.76 L361.71,519.44 L363.49,519.07 L365.27,518.67 L367.04,518.22 L368.82,517.74 L370.59,517.21 L372.37,516.64 L374.15,516.03 L375.92,515.38 L377.70,514.69 L379.47,513.97 L381.25,513.20 L383.03,512.39 L384.80,511.54 L386.58,510.66 L388.35,509.73 L390.13,508.77 L391.90,507.76 L393.68,506.72 L395.46,505.64 L397.23,504.52 L399.01,503.37 L400.78,502.18 L402.56,500.95 L404.34,499.68 L406.11,498.38 L407.89,497.04 L409.66,495.67 L411.44,494.26 L413.22,492.81 L414.99,491.34 L416.77,489.82 L418.54,488.27 L420.32,486.69 L422.10,485.07 L423.87,483.43 L425.65,481.74 L427.42,480.03 L429.20,478.29 L430.97,476.51 L432.75,474.70 L434.53,472.86 L436.30,470.99 L438.08,469.09 L439.85,467.16 L441.63,465.21 L443.41,463.22 L445.18,461.21 L446.96,459.17 L448.73,457.10 L450.51,455.00 L452.29,452.88 L454.06,450.74 L455.84,448.56 L457.61,446.37 L459.39,444.15 L461.16,441.90 L462.94,439.63 L464.72,437.34 L466.49,435.03 L468.27,432.70 L470.04,430.34 L471.82,427.97 L473.60,425.57 L475.37,423.16 L477.15,420.73 L478.92,418.28 L480.70,415.81 L482.48,413.32 L484.25,410.82 L486.03,408.30 L487.80,405.77 L489.58,403.22 L491.36,400.66 L493.13,398.08 L494.91,395.49 L496.68,392.89 L498.46,390.28 L500.23,387.65 L502.01,385.02 L503.79,382.37 L505.56,379.72 L507.34,377.06 L509.11,374.38 L510.89,371.71 L512.67,369.02 L514.44,366.33 L516.22,363.63 L517.99,360.93 L519.77,358.22 L521.55,355.51 L523.32,352.80 L525.10,350.08 L526.87,347.36 L528.65,344.64 L530.42,341.93 L532.20,339.21 L533.98,336.49 L535.75,333.77 L537.53,331.05 L539.30,328.34 L541.08,325.63 L542.86,322.92 L544.63,320.22 L546.41,317.52 L548.18,314.83 L549.96,312.14 L551.74,309.47 L553.51,306.79 L555.29,304.13 L557.06,301.48 L558.84,298.83 L560.62,296.20 L562.39,293.57 L564.17,290.96 L565.94,288.36 L567.72,285.77 L569.49,283.19 L571.27,280.63 L573.05,278.08 L574.82,275.55 L576.60,273.03 L578.37,270.53 L580.15,268.04 L581.93,265.57 L583.70,263.12 L585.48,260.69 L587.25,258.28 L589.03,255.88 L590.81,253.51 L592.58,251.15 L594.36,248.82 L596.13,246.51 L597.91,244.22 L599.69,241.95 L601.46,239.70 L603.24,237.48 L605.01,235.29 L606.79,233.11 L608.56,230.97 L610.34,228.85 L612.12,226.75 L613.89,224.68 L615.67,222.64 L617.44,220.63 L619.22,218.64 L621.00,216.69 L622.77,214.76 L624.55,212.86 L626.32,210.99 L628.10,209.15 L629.88,207.34 L631.65,205.56 L633.43,203.82 L635.20,202.11 L636.98,200.42 L638.75,198.78 L640.53,197.16 L642.31,195.58 L644.08,194.03 L645.86,192.51 L647.63,191.04 L649.41,189.59 L651.19,188.18 L652.96,186.81 L654.74,185.47 L656.51,184.17 L658.29,182.90 L660.07,181.67 L661.84,180.48 L663.62,179.33 L665.39,178.21 L667.17,177.13 L668.95,176.09 L670.72,175.08 L672.50,174.12 L674.27,173.19 L676.05,172.31 L677.82,171.46 L679.60,170.65 L681.38,169.88 L683.15,169.16 L684.93,168.47 L686.70,167.82 L688.48,167.21 L690.26,166.64 L692.03,166.11 L693.81,165.63 L695.58,165.18 L697.36,164.78 L699.14,164.41 L700.91,164.09 L702.69,163.81 L704.46,163.56 L706.24,163.36 L708.01,163.21 L709.79,163.09 L711.57,163.01 L713.34,162.98 L715.12,162.98 L716.89,163.03 L718.67,163.12 L720.45,163.25 L722.22,163.42 L724.00,163.64 L725.77,163.89 L727.55,164.19 L729.33,164.52 L731.10,164.90 L732.88,165.32 L734.65,165.78 L736.43,166.28 L738.21,166.82 L739.98,167.40 L741.76,168.02 L743.53,168.68 L745.31,169.38 L747.08,170.12 L748.86,170.90 L750.64,171.72 L752.41,172.58 L754.19,173.48 L755.96,174.42 L757.74,175.40 L759.52,176.41 L761.29,177.47 L763.07,178.56 L764.84,179.69 L766.62,180.85 L768.40,182.06 L770.17,183.30 L771.95,184.57 L773.72,185.89 L775.50,187.24 L777.28,188.62 L779.05,190.04 L780.83,191.50 L782.60,192.99 L784.38,194.52 L786.15,196.07 L787.93,197.67 L789.71,199.29 L791.48,200.95 L793.26,202.64 L795.03,204.37 L796.81,206.12 L798.59,207.91 L800.36,209.73 L802.14,211.58 L803.91,213.46 L805.69,215.36 L807.47,217.30 L809.24,219.27 L811.02,221.26 L812.79,223.28 L814.57,225.33 L816.34,227.41 L818.12,229.51 L819.90,231.64 L821.67,233.80 L823.45,235.98 L825.22,238.18 L827.00,240.41 L828.78,242.66 L830.55,244.94 L832.33,247.23 L834.10,249.55 L835.88,251.89 L837.66,254.25 L839.43,256.64 L841.21,259.04 L842.98,261.46 L844.76,263.90 L846.54,266.35 L848.31,268.83 L850.09,271.32 L851.86,273.83 L853.64,276.35 L855.41,278.89 L857.19,281.44 L858.97,284.01 L860.74,286.59 L862.52,289.18 L864.29,291.78 L866.07,294.40 L867.85,297.03 L869.62,299.67 L871.40,302.32 L873.17,304.97 L874.95,307.64 L876.73,310.31 L878.50,312.99 L880.28,315.68 L882.05,318.37 L883.83,321.07 L885.61,323.78 L887.38,326.48 L889.16,329.20 L890.93,331.91 L892.71,334.63 L894.48,337.35 L896.26,340.07 L898.04,342.79 L899.81,345.51 L901.59,348.22 L903.36,350.94 L905.14,353.66 L906.92,356.37 L908.69,359.08 L910.47,361.78 L912.24,364.49 L914.02,367.18 L915.80,369.87 L917.57,372.55 L919.35,375.23 L921.12,377.90 L922.90,380.56 L924.67,383.21 L926.45,385.85 L928.23,388.48 L930.00,391.10 L931.78,393.71 L933.55,396.31 L935.33,398.90 L937.11,401.47 L938.88,404.03 L940.66,406.57 L942.43,409.10 L944.21,411.61 L945.99,414.11 L947.76,416.59 L949.54,419.05 L951.31,421.50 L953.09,423.93 L954.87,426.33 L956.64,428.72 L958.42,431.09 L960.19,433.44 L961.97,435.77 L963.74,438.07 L965.52,440.35 L967.30,442.61 L969.07,444.85 L970.85,447.06 L972.62,449.25 L974.40,451.42" fill="none" stroke="#000" stroke-width="1.25" stroke-linejoin="round"/></g>
<rect x="86.45" y="73.50" width="887.95" height="536.85" fill="none" stroke="#000" stroke-width="1.1"/>
<rect x="102.35" y="85.2" width="621.15" height="59.25" fill="#fff" stroke="#000" stroke-width="0.9"/>
<rect x="216.6" y="93.0" width="76.6" height="14.3" fill="#DEEBF7" fill-opacity="0.60"/>
<rect x="216.6" y="122.4" width="76.6" height="14.3" fill="#9ECAE1" fill-opacity="0.60"/>
<rect x="423.5" y="93.0" width="76.6" height="14.3" fill="#3182BD" fill-opacity="0.60"/>
<rect x="423.5" y="122.4" width="76.6" height="14.3" fill="#E69F00" fill-opacity="0.60"/>
<path d="M630.4,99.5H706.8" stroke="#000" stroke-width="1.25"/>
<g opacity="0.985" fill="#000" stroke="#fff" stroke-width="0.4" font-family="Liberation Serif, serif" style="font-kerning:none"><text transform="translate(145.54,108.80) scale(1.1752,1.0000)" font-size="28.00" stroke-width="0.26">n</text><text transform="translate(184.35,108.80) scale(1.0560,1.0000)" font-size="28.60" stroke-width="0.12">0</text><text transform="translate(145.54,138.30) scale(1.1752,1.0000)" font-size="28.00" stroke-width="0.26">n</text><text transform="translate(184.88,138.30) scale(0.9237,1.0000)" font-size="28.60" stroke-width="0.12">1</text><text transform="translate(352.54,108.80) scale(1.1752,1.0000)" font-size="28.00" stroke-width="0.26">n</text><text transform="translate(390.98,108.80) scale(1.0467,1.0000)" font-size="28.60" stroke-width="0.12">2</text><text transform="translate(352.54,138.30) scale(1.1752,1.0000)" font-size="28.00" stroke-width="0.26">n</text><text transform="translate(391.01,138.30) scale(1.0157,1.0000)" font-size="28.60" stroke-width="0.12">3</text><text transform="translate(538.45,108.80) scale(1.0670,1.0000)" font-size="28.60" stroke-width="0.26">sin</text><text transform="translate(585.93,108.80) scale(1.1035,1.0000)" font-size="28.00" stroke-width="0.26">x</text><text transform="translate(303.72,37.60) scale(1.0428,1.0000)" font-size="29.30" stroke-width="0.26">Polynomial</text><text transform="translate(455.10,37.60) scale(1.0708,1.0000)" font-size="29.30" stroke-width="0.26">approximation</text><text transform="translate(647.45,37.60) scale(1.0304,1.0000)" font-size="29.30" stroke-width="0.26">of</text><text transform="translate(680.35,37.60) scale(1.0670,1.0000)" font-size="28.60" stroke-width="0.26">sin</text><text transform="translate(727.83,37.60) scale(1.1035,1.0000)" font-size="28.00" stroke-width="0.26">x</text><text transform="translate(31.38,82.00) scale(1.0430,1.0000)" font-size="28.60" stroke-width="0.12">1.5</text><text transform="translate(53.43,171.47) scale(1.0627,1.0000)" font-size="28.60" stroke-width="0.12">1</text><text transform="translate(31.77,260.95) scale(1.0375,1.0000)" font-size="28.60" stroke-width="0.12">0.5</text><text transform="translate(54.04,350.43) scale(1.0642,1.0000)" font-size="28.60" stroke-width="0.12">0</text><text transform="translate(31.77,439.90) scale(1.0375,1.0000)" font-size="28.60" stroke-width="0.12">0.5</text><text transform="translate(53.43,529.38) scale(1.0627,1.0000)" font-size="28.60" stroke-width="0.12">1</text><text transform="translate(31.79,618.85) scale(1.0368,1.0000)" font-size="28.60" stroke-width="0.12">1.5</text><text transform="translate(365.68,648.80) scale(1.0467,1.0000)" font-size="28.60" stroke-width="0.12">2</text><text transform="translate(521.11,648.80) scale(1.0890,1.0000)" font-size="28.60" stroke-width="0.12">0</text><text transform="translate(721.18,648.80) scale(1.0467,1.0000)" font-size="28.60" stroke-width="0.12">2</text><text transform="translate(458.74,513.30) scale(1.0765,1.0000)" font-size="28.60" stroke-width="0.26">sin</text><text transform="translate(590.81,480.54) scale(1.2193,1.0000)" font-size="26.00" stroke-width="0.26">∞</text><text transform="translate(587.86,547.00) scale(1.0863,1.0000)" font-size="20.20" stroke-width="0.12">0</text><text transform="translate(675.33,494.00) scale(0.9435,1.0000)" font-size="28.60" stroke-width="0.12">1</text><text transform="translate(701.81,483.70) scale(1.4563,1.0000)" font-size="19.00" stroke-width="0.26" font-style="italic">n</text><text transform="translate(633.92,533.40) scale(1.0205,1.0000)" font-size="28.60" stroke-width="0.12">2</text><text transform="translate(648.24,533.40) scale(1.2585,1.0000)" font-size="28.00" stroke-width="0.26" font-style="italic">n</text><text transform="translate(701.05,533.40) scale(0.9336,1.0000)" font-size="28.60" stroke-width="0.12">1</text><text transform="translate(726.12,533.40) scale(0.9820,1.0000)" font-size="29.30" stroke-width="0.12">!</text><text transform="translate(755.04,501.70) scale(1.0867,1.0000)" font-size="20.20" stroke-width="0.12">2</text><text transform="translate(765.92,501.70) scale(1.5932,1.0000)" font-size="19.00" stroke-width="0.26" font-style="italic">n</text><text transform="translate(799.25,501.70) scale(0.9843,1.0000)" font-size="20.20" stroke-width="0.12">1</text></g>
<g fill="#000" font-family="'Liberation Serif', serif" style="font-kerning:none">
<text x="575.5" y="108.8" font-size="34">(</text>
<text x="602.2" y="108.8" font-size="34">)</text>
<text x="717.4" y="37.6" font-size="34">(</text>
<text x="744.1" y="37.6" font-size="34">)</text>
<text x="495.8" y="513.3" font-size="34">(</text>
<text x="523.3" y="513.3" font-size="34">)</text>
<text x="642.0" y="494.0" font-size="34">(</text>
<text x="689.4" y="494.0" font-size="34">)</text>
<text x="623.5" y="533.4" font-size="34">(</text>
<text x="715.1" y="533.4" font-size="34">)</text>
<text x="165.5" y="648.7" font-size="29" font-style="italic">π</text>
<text x="333.9" y="648.7" font-size="29" font-style="italic">π</text>
<text x="689.9" y="648.7" font-size="29" font-style="italic">π</text>
<text x="887.9" y="648.7" font-size="29" font-style="italic">π</text>
<text transform="translate(572.8,526.8) scale(1.12,1)" font-size="63">Σ</text>
<text x="508.4" y="513.3" font-size="28.6" font-style="italic">x</text>
<text x="740.4" y="513.4" font-size="28.6" font-style="italic">x</text>
<text transform="translate(162.5,108.8) scale(1.3,1)" font-size="28.6">=</text>
<text transform="translate(162.5,138.3) scale(1.3,1)" font-size="28.6">=</text>
<text transform="translate(369.5,108.8) scale(1.3,1)" font-size="28.6">=</text>
<text transform="translate(369.5,138.3) scale(1.3,1)" font-size="28.6">=</text>
<text transform="translate(542.6,513.3) scale(1.33,1)" font-size="28.6">=</text>
<text transform="translate(10.7,439.9) scale(1.18,1)" font-size="28.6">−</text>
<text transform="translate(32.9,529.38) scale(1.24,1)" font-size="28.6">−</text>
<text transform="translate(10.7,618.85) scale(1.19,1)" font-size="28.6">−</text>
<text transform="translate(143.0,648.8) scale(1.24,1)" font-size="28.6">−</text>
<text transform="translate(312.3,648.8) scale(1.22,1)" font-size="28.6">−</text>
<text transform="translate(654.0,494.0) scale(1.19,1)" font-size="28.6">−</text>
<text x="574.1" y="479.3" font-size="27">+</text>
<text x="673.9" y="534.7" font-size="34">+</text>
<text x="781.8" y="503.2" font-size="27">+</text>
<text transform="translate(353.6,654.9) scale(0.85,1)" font-size="41">/</text>
<text transform="translate(708.8,654.9) scale(0.88,1)" font-size="41">/</text>
</g>
<path d="M622.50,505.80H734.70" fill="none" stroke="#000" stroke-width="1.15"/>
</svg>
</body></html>
